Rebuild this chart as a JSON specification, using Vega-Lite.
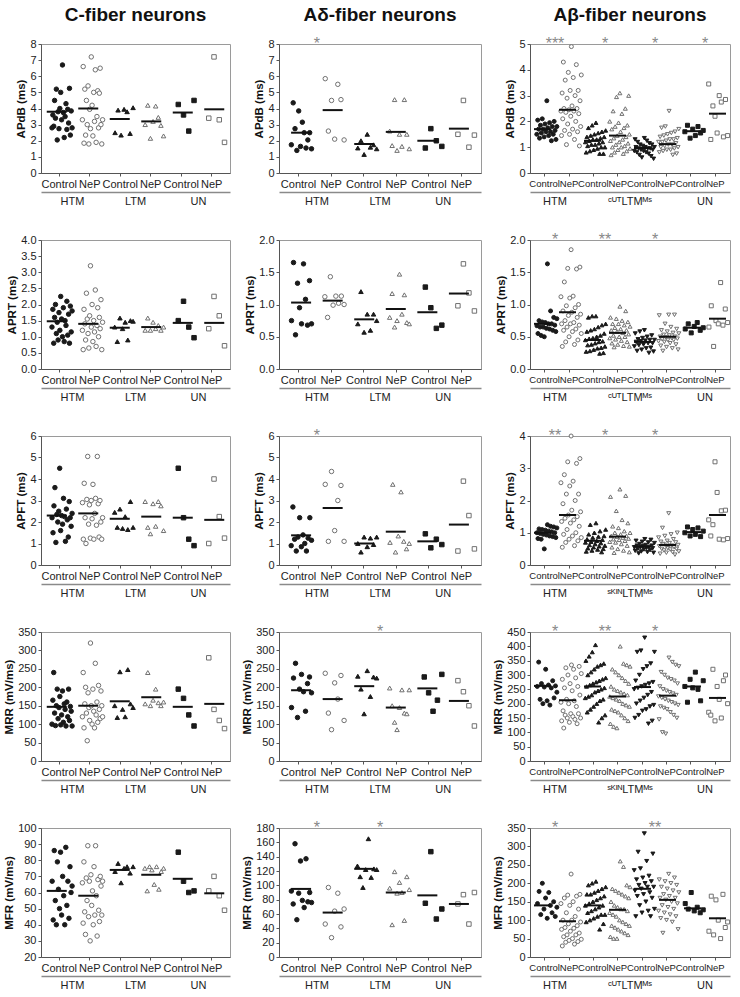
{
"$schema":"https://vega.github.io/schema/vega-lite/v6.json",
"padding":{"left":3,"top":5,"right":5,"bottom":5},
"bounds":"flush",
"columns":3,
"spacing":{"row":67,"column":49},
"resolve":{"scale":{"xOffset":"independent"}},
"config":{
 "font":"Liberation Sans",
 "view":{"stroke":"#9a9a9a","strokeWidth":1},
 "axis":{"labelFont":"Liberation Sans","labelFontSize":11,"labelColor":"#222","titleFont":"Liberation Sans","titleFontSize":11.5,"titleFontWeight":"bold","titleColor":"#111","domainColor":"#555","tickColor":"#555","tickSize":3,"labelPadding":2,"titlePadding":3,"grid":false},
 "axisX":{"labelAngle":0,"labelOverlap":false},
 "scale":{"bandPaddingInner":0,"bandPaddingOuter":0},
 "title":{"font":"Liberation Sans","fontSize":19,"fontWeight":"bold","color":"#111","offset":11},
 "tick":{"thickness":2,"color":"#111","opacity":1},
 "text":{"font":"Liberation Sans"}
},
"datasets":{
"pts":[
{"p":"C1","k":"HC","v":2.8},{"p":"C1","k":"HC","v":3.6},{"p":"C1","k":"HC","v":2.9},{"p":"C1","k":"HC","v":4.5},{"p":"C1","k":"HC","v":3.4},{"p":"C1","k":"HC","v":5.2},{"p":"C1","k":"HC","v":2.05},{"p":"C1","k":"HC","v":3.8},{"p":"C1","k":"HC","v":2.75},{"p":"C1","k":"HC","v":4.0},{"p":"C1","k":"HC","v":5.0},{"p":"C1","k":"HC","v":3.3},{"p":"C1","k":"HC","v":6.7},{"p":"C1","k":"HC","v":3.75},{"p":"C1","k":"HC","v":2.2},{"p":"C1","k":"HC","v":3.5},{"p":"C1","k":"HC","v":4.3},{"p":"C1","k":"HC","v":2.7},{"p":"C1","k":"HC","v":3.95},{"p":"C1","k":"HC","v":3.1},{"p":"C1","k":"HC","v":5.25},{"p":"C1","k":"HC","v":2.35},{"p":"C1","k":"HC","v":3.85},{"p":"C1","k":"HC","v":2.8},
{"p":"C1","k":"HN","v":3.3},{"p":"C1","k":"HN","v":6.6},{"p":"C1","k":"HN","v":1.85},{"p":"C1","k":"HN","v":5.2},{"p":"C1","k":"HN","v":2.35},{"p":"C1","k":"HN","v":4.5},{"p":"C1","k":"HN","v":3.0},{"p":"C1","k":"HN","v":5.4},{"p":"C1","k":"HN","v":1.8},{"p":"C1","k":"HN","v":3.95},{"p":"C1","k":"HN","v":2.75},{"p":"C1","k":"HN","v":7.2},{"p":"C1","k":"HN","v":4.2},{"p":"C1","k":"HN","v":2.3},{"p":"C1","k":"HN","v":5.0},{"p":"C1","k":"HN","v":3.2},{"p":"C1","k":"HN","v":6.4},{"p":"C1","k":"HN","v":1.9},{"p":"C1","k":"HN","v":3.5},{"p":"C1","k":"HN","v":5.1},{"p":"C1","k":"HN","v":2.8},{"p":"C1","k":"HN","v":4.95},{"p":"C1","k":"HN","v":6.5},{"p":"C1","k":"HN","v":3.0},{"p":"C1","k":"HN","v":1.8},{"p":"C1","k":"HN","v":3.3},
{"p":"C1","k":"LC","v":2.5},{"p":"C1","k":"LC","v":3.9},{"p":"C1","k":"LC","v":2.35},{"p":"C1","k":"LC","v":3.95},{"p":"C1","k":"LC","v":3.8},{"p":"C1","k":"LC","v":2.45},{"p":"C1","k":"LC","v":4.05},
{"p":"C1","k":"LN","v":3.0},{"p":"C1","k":"LN","v":4.2},{"p":"C1","k":"LN","v":2.15},{"p":"C1","k":"LN","v":3.2},{"p":"C1","k":"LN","v":4.15},{"p":"C1","k":"LN","v":3.45},{"p":"C1","k":"LN","v":2.95},{"p":"C1","k":"LN","v":2.3},
{"p":"C1","k":"UC","v":4.25},{"p":"C1","k":"UC","v":3.6},{"p":"C1","k":"UC","v":2.6},{"p":"C1","k":"UC","v":4.5},
{"p":"C1","k":"UN","v":3.4},{"p":"C1","k":"UN","v":7.2},{"p":"C1","k":"UN","v":3.3},{"p":"C1","k":"UN","v":1.9},
{"p":"C2","k":"HC","v":1.3},{"p":"C2","k":"HC","v":1.85},{"p":"C2","k":"HC","v":0.8},{"p":"C2","k":"HC","v":1.6},{"p":"C2","k":"HC","v":2.0},{"p":"C2","k":"HC","v":1.1},{"p":"C2","k":"HC","v":1.45},{"p":"C2","k":"HC","v":0.9},{"p":"C2","k":"HC","v":1.75},{"p":"C2","k":"HC","v":1.2},{"p":"C2","k":"HC","v":2.25},{"p":"C2","k":"HC","v":1.55},{"p":"C2","k":"HC","v":1.0},{"p":"C2","k":"HC","v":1.9},{"p":"C2","k":"HC","v":0.85},{"p":"C2","k":"HC","v":1.5},{"p":"C2","k":"HC","v":1.35},{"p":"C2","k":"HC","v":2.1},{"p":"C2","k":"HC","v":1.05},{"p":"C2","k":"HC","v":1.7},{"p":"C2","k":"HC","v":0.8},{"p":"C2","k":"HC","v":1.95},{"p":"C2","k":"HC","v":1.15},{"p":"C2","k":"HC","v":1.8},
{"p":"C2","k":"HN","v":1.2},{"p":"C2","k":"HN","v":0.6},{"p":"C2","k":"HN","v":1.85},{"p":"C2","k":"HN","v":1.4},{"p":"C2","k":"HN","v":0.9},{"p":"C2","k":"HN","v":2.35},{"p":"C2","k":"HN","v":1.55},{"p":"C2","k":"HN","v":1.1},{"p":"C2","k":"HN","v":0.65},{"p":"C2","k":"HN","v":1.65},{"p":"C2","k":"HN","v":3.2},{"p":"C2","k":"HN","v":1.3},{"p":"C2","k":"HN","v":2.0},{"p":"C2","k":"HN","v":0.85},{"p":"C2","k":"HN","v":1.5},{"p":"C2","k":"HN","v":1.15},{"p":"C2","k":"HN","v":2.45},{"p":"C2","k":"HN","v":0.7},{"p":"C2","k":"HN","v":1.35},{"p":"C2","k":"HN","v":1.9},{"p":"C2","k":"HN","v":1.0},{"p":"C2","k":"HN","v":1.6},{"p":"C2","k":"HN","v":1.25},{"p":"C2","k":"HN","v":2.15},{"p":"C2","k":"HN","v":0.6},{"p":"C2","k":"HN","v":1.45},
{"p":"C2","k":"LC","v":1.3},{"p":"C2","k":"LC","v":0.85},{"p":"C2","k":"LC","v":1.58},{"p":"C2","k":"LC","v":1.25},{"p":"C2","k":"LC","v":1.45},{"p":"C2","k":"LC","v":0.9},{"p":"C2","k":"LC","v":1.5},{"p":"C2","k":"LC","v":1.48},
{"p":"C2","k":"LN","v":1.2},{"p":"C2","k":"LN","v":1.58},{"p":"C2","k":"LN","v":1.2},{"p":"C2","k":"LN","v":1.45},{"p":"C2","k":"LN","v":1.25},{"p":"C2","k":"LN","v":1.35},{"p":"C2","k":"LN","v":1.2},{"p":"C2","k":"LN","v":1.3},
{"p":"C2","k":"UC","v":1.5},{"p":"C2","k":"UC","v":2.1},{"p":"C2","k":"UC","v":1.3},{"p":"C2","k":"UC","v":0.97},
{"p":"C2","k":"UN","v":1.25},{"p":"C2","k":"UN","v":2.25},{"p":"C2","k":"UN","v":1.65},{"p":"C2","k":"UN","v":0.72},
{"p":"C3","k":"HC","v":2.2},{"p":"C3","k":"HC","v":1.5},{"p":"C3","k":"HC","v":2.75},{"p":"C3","k":"HC","v":3.6},{"p":"C3","k":"HC","v":1.05},{"p":"C3","k":"HC","v":2.35},{"p":"C3","k":"HC","v":2.0},{"p":"C3","k":"HC","v":2.5},{"p":"C3","k":"HC","v":4.5},{"p":"C3","k":"HC","v":1.6},{"p":"C3","k":"HC","v":2.3},{"p":"C3","k":"HC","v":1.9},{"p":"C3","k":"HC","v":3.1},{"p":"C3","k":"HC","v":2.25},{"p":"C3","k":"HC","v":1.1},{"p":"C3","k":"HC","v":2.6},{"p":"C3","k":"HC","v":2.1},{"p":"C3","k":"HC","v":1.3},{"p":"C3","k":"HC","v":2.95},{"p":"C3","k":"HC","v":2.2},{"p":"C3","k":"HC","v":1.8},{"p":"C3","k":"HC","v":2.4},
{"p":"C3","k":"HN","v":2.9},{"p":"C3","k":"HN","v":1.2},{"p":"C3","k":"HN","v":3.8},{"p":"C3","k":"HN","v":2.2},{"p":"C3","k":"HN","v":1.0},{"p":"C3","k":"HN","v":3.05},{"p":"C3","k":"HN","v":5.05},{"p":"C3","k":"HN","v":1.9},{"p":"C3","k":"HN","v":2.8},{"p":"C3","k":"HN","v":1.25},{"p":"C3","k":"HN","v":3.0},{"p":"C3","k":"HN","v":2.15},{"p":"C3","k":"HN","v":3.75},{"p":"C3","k":"HN","v":1.2},{"p":"C3","k":"HN","v":2.4},{"p":"C3","k":"HN","v":3.1},{"p":"C3","k":"HN","v":1.85},{"p":"C3","k":"HN","v":5.05},{"p":"C3","k":"HN","v":2.85},{"p":"C3","k":"HN","v":1.3},{"p":"C3","k":"HN","v":3.0},{"p":"C3","k":"HN","v":2.0},{"p":"C3","k":"HN","v":1.2},{"p":"C3","k":"HN","v":2.2},
{"p":"C3","k":"LC","v":2.45},{"p":"C3","k":"LC","v":1.75},{"p":"C3","k":"LC","v":2.6},{"p":"C3","k":"LC","v":1.7},{"p":"C3","k":"LC","v":2.25},{"p":"C3","k":"LC","v":1.65},{"p":"C3","k":"LC","v":2.95},{"p":"C3","k":"LC","v":1.75},
{"p":"C3","k":"LN","v":2.95},{"p":"C3","k":"LN","v":1.75},{"p":"C3","k":"LN","v":1.45},{"p":"C3","k":"LN","v":2.85},{"p":"C3","k":"LN","v":1.8},{"p":"C3","k":"LN","v":2.95},{"p":"C3","k":"LN","v":2.75},{"p":"C3","k":"LN","v":1.6},
{"p":"C3","k":"UC","v":4.5},{"p":"C3","k":"UC","v":2.2},{"p":"C3","k":"UC","v":1.2},{"p":"C3","k":"UC","v":0.9},
{"p":"C3","k":"UN","v":1.0},{"p":"C3","k":"UN","v":4.0},{"p":"C3","k":"UN","v":2.25},{"p":"C3","k":"UN","v":1.25},
{"p":"C4","k":"HC","v":100},{"p":"C4","k":"HC","v":165},{"p":"C4","k":"HC","v":240},{"p":"C4","k":"HC","v":130},{"p":"C4","k":"HC","v":96},{"p":"C4","k":"HC","v":150},{"p":"C4","k":"HC","v":195},{"p":"C4","k":"HC","v":115},{"p":"C4","k":"HC","v":145},{"p":"C4","k":"HC","v":175},{"p":"C4","k":"HC","v":98},{"p":"C4","k":"HC","v":125},{"p":"C4","k":"HC","v":190},{"p":"C4","k":"HC","v":105},{"p":"C4","k":"HC","v":155},{"p":"C4","k":"HC","v":140},{"p":"C4","k":"HC","v":95},{"p":"C4","k":"HC","v":160},{"p":"C4","k":"HC","v":120},{"p":"C4","k":"HC","v":195},{"p":"C4","k":"HC","v":110},{"p":"C4","k":"HC","v":148},{"p":"C4","k":"HC","v":135},{"p":"C4","k":"HC","v":95},
{"p":"C4","k":"HN","v":120},{"p":"C4","k":"HN","v":240},{"p":"C4","k":"HN","v":90},{"p":"C4","k":"HN","v":155},{"p":"C4","k":"HN","v":200},{"p":"C4","k":"HN","v":130},{"p":"C4","k":"HN","v":55},{"p":"C4","k":"HN","v":185},{"p":"C4","k":"HN","v":145},{"p":"C4","k":"HN","v":110},{"p":"C4","k":"HN","v":320},{"p":"C4","k":"HN","v":150},{"p":"C4","k":"HN","v":100},{"p":"C4","k":"HN","v":195},{"p":"C4","k":"HN","v":135},{"p":"C4","k":"HN","v":90},{"p":"C4","k":"HN","v":265},{"p":"C4","k":"HN","v":125},{"p":"C4","k":"HN","v":160},{"p":"C4","k":"HN","v":105},{"p":"C4","k":"HN","v":205},{"p":"C4","k":"HN","v":140},{"p":"C4","k":"HN","v":115},{"p":"C4","k":"HN","v":190},{"p":"C4","k":"HN","v":150},{"p":"C4","k":"HN","v":120},
{"p":"C4","k":"LC","v":150},{"p":"C4","k":"LC","v":118},{"p":"C4","k":"LC","v":242},{"p":"C4","k":"LC","v":140},{"p":"C4","k":"LC","v":120},{"p":"C4","k":"LC","v":248},{"p":"C4","k":"LC","v":155},{"p":"C4","k":"LC","v":145},
{"p":"C4","k":"LN","v":155},{"p":"C4","k":"LN","v":240},{"p":"C4","k":"LN","v":150},{"p":"C4","k":"LN","v":165},{"p":"C4","k":"LN","v":195},{"p":"C4","k":"LN","v":158},{"p":"C4","k":"LN","v":150},{"p":"C4","k":"LN","v":160},
{"p":"C4","k":"UC","v":195},{"p":"C4","k":"UC","v":170},{"p":"C4","k":"UC","v":125},{"p":"C4","k":"UC","v":95},
{"p":"C4","k":"UN","v":280},{"p":"C4","k":"UN","v":140},{"p":"C4","k":"UN","v":110},{"p":"C4","k":"UN","v":88},
{"p":"C5","k":"HC","v":67},{"p":"C5","k":"HC","v":43},{"p":"C5","k":"HC","v":86},{"p":"C5","k":"HC","v":55},{"p":"C5","k":"HC","v":40},{"p":"C5","k":"HC","v":79},{"p":"C5","k":"HC","v":62},{"p":"C5","k":"HC","v":50},{"p":"C5","k":"HC","v":85},{"p":"C5","k":"HC","v":46},{"p":"C5","k":"HC","v":70},{"p":"C5","k":"HC","v":58},{"p":"C5","k":"HC","v":40},{"p":"C5","k":"HC","v":88},{"p":"C5","k":"HC","v":52},{"p":"C5","k":"HC","v":67},{"p":"C5","k":"HC","v":44},{"p":"C5","k":"HC","v":76},{"p":"C5","k":"HC","v":60},{"p":"C5","k":"HC","v":64},
{"p":"C5","k":"HN","v":66},{"p":"C5","k":"HN","v":41},{"p":"C5","k":"HN","v":79},{"p":"C5","k":"HN","v":48},{"p":"C5","k":"HN","v":34},{"p":"C5","k":"HN","v":69},{"p":"C5","k":"HN","v":55},{"p":"C5","k":"HN","v":89},{"p":"C5","k":"HN","v":45},{"p":"C5","k":"HN","v":67},{"p":"C5","k":"HN","v":30},{"p":"C5","k":"HN","v":71},{"p":"C5","k":"HN","v":52},{"p":"C5","k":"HN","v":61},{"p":"C5","k":"HN","v":40},{"p":"C5","k":"HN","v":76},{"p":"C5","k":"HN","v":46},{"p":"C5","k":"HN","v":89},{"p":"C5","k":"HN","v":58},{"p":"C5","k":"HN","v":33},{"p":"C5","k":"HN","v":68},{"p":"C5","k":"HN","v":49},{"p":"C5","k":"HN","v":42},{"p":"C5","k":"HN","v":70},{"p":"C5","k":"HN","v":64},{"p":"C5","k":"HN","v":46},{"p":"C5","k":"HN","v":67},
{"p":"C5","k":"LC","v":73},{"p":"C5","k":"LC","v":78},{"p":"C5","k":"LC","v":66},{"p":"C5","k":"LC","v":75},{"p":"C5","k":"LC","v":76},{"p":"C5","k":"LC","v":72},{"p":"C5","k":"LC","v":76},
{"p":"C5","k":"LN","v":75},{"p":"C5","k":"LN","v":61},{"p":"C5","k":"LN","v":76},{"p":"C5","k":"LN","v":74},{"p":"C5","k":"LN","v":65},{"p":"C5","k":"LN","v":76},{"p":"C5","k":"LN","v":62},{"p":"C5","k":"LN","v":73},{"p":"C5","k":"LN","v":75},
{"p":"C5","k":"UC","v":85},{"p":"C5","k":"UC","v":67},{"p":"C5","k":"UC","v":60},{"p":"C5","k":"UC","v":61},
{"p":"C5","k":"UN","v":61},{"p":"C5","k":"UN","v":70},{"p":"C5","k":"UN","v":58},{"p":"C5","k":"UN","v":49},
{"p":"D1","k":"HC","v":1.75},{"p":"D1","k":"HC","v":4.35},{"p":"D1","k":"HC","v":2.75},{"p":"D1","k":"HC","v":1.4},{"p":"D1","k":"HC","v":3.85},{"p":"D1","k":"HC","v":1.65},{"p":"D1","k":"HC","v":3.15},{"p":"D1","k":"HC","v":2.5},{"p":"D1","k":"HC","v":1.55},{"p":"D1","k":"HC","v":2.05},{"p":"D1","k":"HC","v":2.5},{"p":"D1","k":"HC","v":1.5},
{"p":"D1","k":"HN","v":5.85},{"p":"D1","k":"HN","v":2.6},{"p":"D1","k":"HN","v":4.5},{"p":"D1","k":"HN","v":2.1},{"p":"D1","k":"HN","v":5.5},{"p":"D1","k":"HN","v":4.55},{"p":"D1","k":"HN","v":2.05},
{"p":"D1","k":"LC","v":1.55},{"p":"D1","k":"LC","v":2.0},{"p":"D1","k":"LC","v":1.15},{"p":"D1","k":"LC","v":2.4},{"p":"D1","k":"LC","v":1.6},{"p":"D1","k":"LC","v":1.75},{"p":"D1","k":"LC","v":1.5},
{"p":"D1","k":"LN","v":2.6},{"p":"D1","k":"LN","v":1.7},{"p":"D1","k":"LN","v":4.55},{"p":"D1","k":"LN","v":1.4},{"p":"D1","k":"LN","v":2.4},{"p":"D1","k":"LN","v":1.65},{"p":"D1","k":"LN","v":4.55},{"p":"D1","k":"LN","v":2.4},{"p":"D1","k":"LN","v":1.5},
{"p":"D1","k":"UC","v":1.55},{"p":"D1","k":"UC","v":2.75},{"p":"D1","k":"UC","v":2.0},{"p":"D1","k":"UC","v":1.65},
{"p":"D1","k":"UN","v":2.4},{"p":"D1","k":"UN","v":4.5},{"p":"D1","k":"UN","v":1.6},{"p":"D1","k":"UN","v":2.35},
{"p":"D2","k":"HC","v":0.75},{"p":"D2","k":"HC","v":1.65},{"p":"D2","k":"HC","v":0.53},{"p":"D2","k":"HC","v":1.33},{"p":"D2","k":"HC","v":0.95},{"p":"D2","k":"HC","v":0.7},{"p":"D2","k":"HC","v":1.63},{"p":"D2","k":"HC","v":1.08},{"p":"D2","k":"HC","v":0.68},{"p":"D2","k":"HC","v":1.37},{"p":"D2","k":"HC","v":0.7},
{"p":"D2","k":"HN","v":1.12},{"p":"D2","k":"HN","v":0.8},{"p":"D2","k":"HN","v":1.43},{"p":"D2","k":"HN","v":0.99},{"p":"D2","k":"HN","v":1.13},{"p":"D2","k":"HN","v":1.02},{"p":"D2","k":"HN","v":1.13},{"p":"D2","k":"HN","v":1.0},
{"p":"D2","k":"LC","v":0.7},{"p":"D2","k":"LC","v":1.2},{"p":"D2","k":"LC","v":0.57},{"p":"D2","k":"LC","v":0.85},{"p":"D2","k":"LC","v":0.6},{"p":"D2","k":"LC","v":0.85},{"p":"D2","k":"LC","v":0.75},
{"p":"D2","k":"LN","v":0.8},{"p":"D2","k":"LN","v":1.17},{"p":"D2","k":"LN","v":0.65},{"p":"D2","k":"LN","v":0.75},{"p":"D2","k":"LN","v":1.47},{"p":"D2","k":"LN","v":0.85},{"p":"D2","k":"LN","v":1.15},{"p":"D2","k":"LN","v":0.72},{"p":"D2","k":"LN","v":0.7},
{"p":"D2","k":"UC","v":1.27},{"p":"D2","k":"UC","v":0.95},{"p":"D2","k":"UC","v":0.63},{"p":"D2","k":"UC","v":0.68},
{"p":"D2","k":"UN","v":0.98},{"p":"D2","k":"UN","v":1.63},{"p":"D2","k":"UN","v":1.18},{"p":"D2","k":"UN","v":0.9},
{"p":"D3","k":"HC","v":0.9},{"p":"D3","k":"HC","v":2.7},{"p":"D3","k":"HC","v":1.2},{"p":"D3","k":"HC","v":0.65},{"p":"D3","k":"HC","v":1.3},{"p":"D3","k":"HC","v":2.2},{"p":"D3","k":"HC","v":0.85},{"p":"D3","k":"HC","v":1.4},{"p":"D3","k":"HC","v":1.0},{"p":"D3","k":"HC","v":0.65},{"p":"D3","k":"HC","v":1.25},{"p":"D3","k":"HC","v":2.2},{"p":"D3","k":"HC","v":1.15},
{"p":"D3","k":"HN","v":3.75},{"p":"D3","k":"HN","v":1.1},{"p":"D3","k":"HN","v":4.35},{"p":"D3","k":"HN","v":1.6},{"p":"D3","k":"HN","v":3.0},{"p":"D3","k":"HN","v":3.7},{"p":"D3","k":"HN","v":1.1},
{"p":"D3","k":"LC","v":1.0},{"p":"D3","k":"LC","v":0.6},{"p":"D3","k":"LC","v":1.3},{"p":"D3","k":"LC","v":0.85},{"p":"D3","k":"LC","v":1.25},{"p":"D3","k":"LC","v":0.95},{"p":"D3","k":"LC","v":1.3},
{"p":"D3","k":"LN","v":1.05},{"p":"D3","k":"LN","v":3.75},{"p":"D3","k":"LN","v":0.6},{"p":"D3","k":"LN","v":1.35},{"p":"D3","k":"LN","v":3.4},{"p":"D3","k":"LN","v":1.1},{"p":"D3","k":"LN","v":0.75},{"p":"D3","k":"LN","v":1.0},
{"p":"D3","k":"UC","v":1.45},{"p":"D3","k":"UC","v":0.8},{"p":"D3","k":"UC","v":1.2},{"p":"D3","k":"UC","v":0.95},
{"p":"D3","k":"UN","v":0.65},{"p":"D3","k":"UN","v":3.9},{"p":"D3","k":"UN","v":2.3},{"p":"D3","k":"UN","v":0.75},
{"p":"D4","k":"HC","v":145},{"p":"D4","k":"HC","v":225},{"p":"D4","k":"HC","v":265},{"p":"D4","k":"HC","v":118},{"p":"D4","k":"HC","v":195},{"p":"D4","k":"HC","v":235},{"p":"D4","k":"HC","v":188},{"p":"D4","k":"HC","v":135},{"p":"D4","k":"HC","v":210},{"p":"D4","k":"HC","v":228},{"p":"D4","k":"HC","v":185},
{"p":"D4","k":"HN","v":238},{"p":"D4","k":"HN","v":130},{"p":"D4","k":"HN","v":85},{"p":"D4","k":"HN","v":212},{"p":"D4","k":"HN","v":168},{"p":"D4","k":"HN","v":232},{"p":"D4","k":"HN","v":110},
{"p":"D4","k":"LC","v":230},{"p":"D4","k":"LC","v":195},{"p":"D4","k":"LC","v":128},{"p":"D4","k":"LC","v":245},{"p":"D4","k":"LC","v":175},{"p":"D4","k":"LC","v":228},{"p":"D4","k":"LC","v":225},
{"p":"D4","k":"LN","v":198},{"p":"D4","k":"LN","v":150},{"p":"D4","k":"LN","v":105},{"p":"D4","k":"LN","v":85},{"p":"D4","k":"LN","v":145},{"p":"D4","k":"LN","v":193},{"p":"D4","k":"LN","v":130},{"p":"D4","k":"LN","v":128},{"p":"D4","k":"LN","v":193},
{"p":"D4","k":"UC","v":228},{"p":"D4","k":"UC","v":185},{"p":"D4","k":"UC","v":135},{"p":"D4","k":"UC","v":165},{"p":"D4","k":"UC","v":235},
{"p":"D4","k":"UN","v":218},{"p":"D4","k":"UN","v":188},{"p":"D4","k":"UN","v":150},{"p":"D4","k":"UN","v":95},
{"p":"D5","k":"HC","v":92},{"p":"D5","k":"HC","v":74},{"p":"D5","k":"HC","v":158},{"p":"D5","k":"HC","v":52},{"p":"D5","k":"HC","v":89},{"p":"D5","k":"HC","v":134},{"p":"D5","k":"HC","v":79},{"p":"D5","k":"HC","v":69},{"p":"D5","k":"HC","v":137},{"p":"D5","k":"HC","v":77},{"p":"D5","k":"HC","v":90},{"p":"D5","k":"HC","v":76},
{"p":"D5","k":"HN","v":46},{"p":"D5","k":"HN","v":97},{"p":"D5","k":"HN","v":27},{"p":"D5","k":"HN","v":64},{"p":"D5","k":"HN","v":89},{"p":"D5","k":"HN","v":42},{"p":"D5","k":"HN","v":67},
{"p":"D5","k":"LC","v":127},{"p":"D5","k":"LC","v":112},{"p":"D5","k":"LC","v":97},{"p":"D5","k":"LC","v":122},{"p":"D5","k":"LC","v":165},{"p":"D5","k":"LC","v":111},{"p":"D5","k":"LC","v":123},{"p":"D5","k":"LC","v":122},
{"p":"D5","k":"LN","v":96},{"p":"D5","k":"LN","v":45},{"p":"D5","k":"LN","v":119},{"p":"D5","k":"LN","v":89},{"p":"D5","k":"LN","v":104},{"p":"D5","k":"LN","v":90},{"p":"D5","k":"LN","v":51},{"p":"D5","k":"LN","v":112},{"p":"D5","k":"LN","v":94},
{"p":"D5","k":"UC","v":75},{"p":"D5","k":"UC","v":147},{"p":"D5","k":"UC","v":53},{"p":"D5","k":"UC","v":67},
{"p":"D5","k":"UN","v":74},{"p":"D5","k":"UN","v":87},{"p":"D5","k":"UN","v":46},{"p":"D5","k":"UN","v":90},
{"p":"B1","k":"HC","v":1.5},{"p":"B1","k":"HC","v":2.05},{"p":"B1","k":"HC","v":1.7},{"p":"B1","k":"HC","v":1.35},{"p":"B1","k":"HC","v":1.85},{"p":"B1","k":"HC","v":1.55},{"p":"B1","k":"HC","v":2.1},{"p":"B1","k":"HC","v":1.7},{"p":"B1","k":"HC","v":1.4},{"p":"B1","k":"HC","v":1.9},{"p":"B1","k":"HC","v":1.6},{"p":"B1","k":"HC","v":2.8},{"p":"B1","k":"HC","v":1.75},{"p":"B1","k":"HC","v":1.45},{"p":"B1","k":"HC","v":1.95},{"p":"B1","k":"HC","v":1.6},{"p":"B1","k":"HC","v":1.25},{"p":"B1","k":"HC","v":1.8},{"p":"B1","k":"HC","v":1.5},{"p":"B1","k":"HC","v":2.0},{"p":"B1","k":"HC","v":1.65},{"p":"B1","k":"HC","v":1.3},{"p":"B1","k":"HC","v":1.8},
{"p":"B1","k":"HN","v":2.4},{"p":"B1","k":"HN","v":1.45},{"p":"B1","k":"HN","v":3.1},{"p":"B1","k":"HN","v":2.1},{"p":"B1","k":"HN","v":4.3},{"p":"B1","k":"HN","v":2.5},{"p":"B1","k":"HN","v":1.65},{"p":"B1","k":"HN","v":3.6},{"p":"B1","k":"HN","v":2.35},{"p":"B1","k":"HN","v":1.1},{"p":"B1","k":"HN","v":2.9},{"p":"B1","k":"HN","v":1.9},{"p":"B1","k":"HN","v":3.9},{"p":"B1","k":"HN","v":2.45},{"p":"B1","k":"HN","v":1.5},{"p":"B1","k":"HN","v":3.2},{"p":"B1","k":"HN","v":2.2},{"p":"B1","k":"HN","v":4.9},{"p":"B1","k":"HN","v":2.6},{"p":"B1","k":"HN","v":1.7},{"p":"B1","k":"HN","v":3.7},{"p":"B1","k":"HN","v":2.4},{"p":"B1","k":"HN","v":1.3},{"p":"B1","k":"HN","v":3.0},{"p":"B1","k":"HN","v":2.0},{"p":"B1","k":"HN","v":4.2},{"p":"B1","k":"HN","v":2.5},{"p":"B1","k":"HN","v":1.6},{"p":"B1","k":"HN","v":3.2},{"p":"B1","k":"HN","v":2.3},{"p":"B1","k":"HN","v":1.05},{"p":"B1","k":"HN","v":2.8},{"p":"B1","k":"HN","v":1.8},{"p":"B1","k":"HN","v":3.8},
{"p":"B1","k":"LC","v":1.2},{"p":"B1","k":"LC","v":0.8},{"p":"B1","k":"LC","v":1.4},{"p":"B1","k":"LC","v":1.05},{"p":"B1","k":"LC","v":1.75},{"p":"B1","k":"LC","v":1.25},{"p":"B1","k":"LC","v":0.85},{"p":"B1","k":"LC","v":1.45},{"p":"B1","k":"LC","v":1.1},{"p":"B1","k":"LC","v":1.85},{"p":"B1","k":"LC","v":1.3},{"p":"B1","k":"LC","v":0.9},{"p":"B1","k":"LC","v":1.5},{"p":"B1","k":"LC","v":1.1},{"p":"B1","k":"LC","v":1.95},{"p":"B1","k":"LC","v":1.3},{"p":"B1","k":"LC","v":0.95},{"p":"B1","k":"LC","v":1.55},{"p":"B1","k":"LC","v":1.15},{"p":"B1","k":"LC","v":0.75},{"p":"B1","k":"LC","v":1.35},{"p":"B1","k":"LC","v":1.0},{"p":"B1","k":"LC","v":1.6},{"p":"B1","k":"LC","v":1.2},{"p":"B1","k":"LC","v":0.75},{"p":"B1","k":"LC","v":1.4},{"p":"B1","k":"LC","v":1.0},{"p":"B1","k":"LC","v":1.65},
{"p":"B1","k":"LN","v":2.0},{"p":"B1","k":"LN","v":1.25},{"p":"B1","k":"LN","v":0.7},{"p":"B1","k":"LN","v":1.7},{"p":"B1","k":"LN","v":1.0},{"p":"B1","k":"LN","v":2.4},{"p":"B1","k":"LN","v":1.35},{"p":"B1","k":"LN","v":0.8},{"p":"B1","k":"LN","v":1.8},{"p":"B1","k":"LN","v":1.1},{"p":"B1","k":"LN","v":2.95},{"p":"B1","k":"LN","v":1.45},{"p":"B1","k":"LN","v":0.9},{"p":"B1","k":"LN","v":1.95},{"p":"B1","k":"LN","v":1.2},{"p":"B1","k":"LN","v":3.1},{"p":"B1","k":"LN","v":1.6},{"p":"B1","k":"LN","v":1.0},{"p":"B1","k":"LN","v":2.3},{"p":"B1","k":"LN","v":1.3},{"p":"B1","k":"LN","v":0.75},{"p":"B1","k":"LN","v":1.75},{"p":"B1","k":"LN","v":1.05},{"p":"B1","k":"LN","v":2.5},{"p":"B1","k":"LN","v":1.4},{"p":"B1","k":"LN","v":0.85},{"p":"B1","k":"LN","v":1.85},{"p":"B1","k":"LN","v":1.15},{"p":"B1","k":"LN","v":3.0},{"p":"B1","k":"LN","v":1.5},{"p":"B1","k":"LN","v":0.95},
{"p":"B1","k":"MC","v":0.85},{"p":"B1","k":"MC","v":1.3},{"p":"B1","k":"MC","v":1.0},{"p":"B1","k":"MC","v":0.8},{"p":"B1","k":"MC","v":1.2},{"p":"B1","k":"MC","v":0.95},{"p":"B1","k":"MC","v":0.7},{"p":"B1","k":"MC","v":1.1},{"p":"B1","k":"MC","v":0.9},{"p":"B1","k":"MC","v":0.6},{"p":"B1","k":"MC","v":1.05},{"p":"B1","k":"MC","v":0.85},{"p":"B1","k":"MC","v":1.35},{"p":"B1","k":"MC","v":1.0},{"p":"B1","k":"MC","v":0.8},{"p":"B1","k":"MC","v":1.25},{"p":"B1","k":"MC","v":0.95},{"p":"B1","k":"MC","v":0.75},{"p":"B1","k":"MC","v":1.15},{"p":"B1","k":"MC","v":0.95},{"p":"B1","k":"MC","v":0.65},{"p":"B1","k":"MC","v":1.1},{"p":"B1","k":"MC","v":0.9},{"p":"B1","k":"MC","v":0.55},{"p":"B1","k":"MC","v":1.0},
{"p":"B1","k":"MN","v":1.2},{"p":"B1","k":"MN","v":0.8},{"p":"B1","k":"MN","v":1.4},{"p":"B1","k":"MN","v":1.0},{"p":"B1","k":"MN","v":1.75},{"p":"B1","k":"MN","v":1.2},{"p":"B1","k":"MN","v":0.85},{"p":"B1","k":"MN","v":1.45},{"p":"B1","k":"MN","v":1.05},{"p":"B1","k":"MN","v":1.8},{"p":"B1","k":"MN","v":1.25},{"p":"B1","k":"MN","v":0.9},{"p":"B1","k":"MN","v":1.5},{"p":"B1","k":"MN","v":1.1},{"p":"B1","k":"MN","v":2.4},{"p":"B1","k":"MN","v":1.3},{"p":"B1","k":"MN","v":0.9},{"p":"B1","k":"MN","v":1.55},{"p":"B1","k":"MN","v":1.1},{"p":"B1","k":"MN","v":0.7},{"p":"B1","k":"MN","v":1.3},{"p":"B1","k":"MN","v":0.95},{"p":"B1","k":"MN","v":1.6},{"p":"B1","k":"MN","v":1.15},{"p":"B1","k":"MN","v":0.75},{"p":"B1","k":"MN","v":1.35},{"p":"B1","k":"MN","v":1.0},{"p":"B1","k":"MN","v":1.7},
{"p":"B1","k":"UC","v":1.6},{"p":"B1","k":"UC","v":1.85},{"p":"B1","k":"UC","v":1.35},{"p":"B1","k":"UC","v":1.7},{"p":"B1","k":"UC","v":1.45},{"p":"B1","k":"UC","v":1.8},{"p":"B1","k":"UC","v":1.55},{"p":"B1","k":"UC","v":1.65},
{"p":"B1","k":"UN","v":3.45},{"p":"B1","k":"UN","v":1.3},{"p":"B1","k":"UN","v":2.6},{"p":"B1","k":"UN","v":2.2},{"p":"B1","k":"UN","v":1.55},{"p":"B1","k":"UN","v":3.0},{"p":"B1","k":"UN","v":2.75},{"p":"B1","k":"UN","v":1.4},{"p":"B1","k":"UN","v":2.85},{"p":"B1","k":"UN","v":1.45},
{"p":"B2","k":"HC","v":0.67},{"p":"B2","k":"HC","v":0.55},{"p":"B2","k":"HC","v":0.75},{"p":"B2","k":"HC","v":0.65},{"p":"B2","k":"HC","v":0.52},{"p":"B2","k":"HC","v":0.73},{"p":"B2","k":"HC","v":0.65},{"p":"B2","k":"HC","v":0.5},{"p":"B2","k":"HC","v":0.72},{"p":"B2","k":"HC","v":0.63},{"p":"B2","k":"HC","v":1.63},{"p":"B2","k":"HC","v":0.7},{"p":"B2","k":"HC","v":0.62},{"p":"B2","k":"HC","v":0.9},{"p":"B2","k":"HC","v":0.7},{"p":"B2","k":"HC","v":0.6},{"p":"B2","k":"HC","v":0.8},{"p":"B2","k":"HC","v":0.68},{"p":"B2","k":"HC","v":0.58},{"p":"B2","k":"HC","v":0.78},
{"p":"B2","k":"HN","v":1.12},{"p":"B2","k":"HN","v":0.7},{"p":"B2","k":"HN","v":0.35},{"p":"B2","k":"HN","v":0.9},{"p":"B2","k":"HN","v":0.6},{"p":"B2","k":"HN","v":1.35},{"p":"B2","k":"HN","v":0.75},{"p":"B2","k":"HN","v":0.42},{"p":"B2","k":"HN","v":0.98},{"p":"B2","k":"HN","v":0.65},{"p":"B2","k":"HN","v":1.56},{"p":"B2","k":"HN","v":0.83},{"p":"B2","k":"HN","v":0.5},{"p":"B2","k":"HN","v":1.1},{"p":"B2","k":"HN","v":0.7},{"p":"B2","k":"HN","v":1.85},{"p":"B2","k":"HN","v":0.88},{"p":"B2","k":"HN","v":0.58},{"p":"B2","k":"HN","v":1.13},{"p":"B2","k":"HN","v":0.72},{"p":"B2","k":"HN","v":0.38},{"p":"B2","k":"HN","v":0.95},{"p":"B2","k":"HN","v":0.62},{"p":"B2","k":"HN","v":1.55},{"p":"B2","k":"HN","v":0.8},{"p":"B2","k":"HN","v":0.45},{"p":"B2","k":"HN","v":1.0},{"p":"B2","k":"HN","v":0.68},{"p":"B2","k":"HN","v":1.58},{"p":"B2","k":"HN","v":0.85},{"p":"B2","k":"HN","v":0.55},
{"p":"B2","k":"LC","v":0.45},{"p":"B2","k":"LC","v":0.27},{"p":"B2","k":"LC","v":0.58},{"p":"B2","k":"LC","v":0.37},{"p":"B2","k":"LC","v":0.8},{"p":"B2","k":"LC","v":0.47},{"p":"B2","k":"LC","v":0.28},{"p":"B2","k":"LC","v":0.6},{"p":"B2","k":"LC","v":0.38},{"p":"B2","k":"LC","v":0.82},{"p":"B2","k":"LC","v":0.48},{"p":"B2","k":"LC","v":0.3},{"p":"B2","k":"LC","v":0.62},{"p":"B2","k":"LC","v":0.4},{"p":"B2","k":"LC","v":0.82},{"p":"B2","k":"LC","v":0.5},{"p":"B2","k":"LC","v":0.32},{"p":"B2","k":"LC","v":0.65},{"p":"B2","k":"LC","v":0.42},{"p":"B2","k":"LC","v":0.24},{"p":"B2","k":"LC","v":0.52},{"p":"B2","k":"LC","v":0.33},{"p":"B2","k":"LC","v":0.68},{"p":"B2","k":"LC","v":0.43},{"p":"B2","k":"LC","v":0.25},{"p":"B2","k":"LC","v":0.55},{"p":"B2","k":"LC","v":0.35},{"p":"B2","k":"LC","v":0.7},
{"p":"B2","k":"LN","v":0.48},{"p":"B2","k":"LN","v":0.8},{"p":"B2","k":"LN","v":0.6},{"p":"B2","k":"LN","v":0.4},{"p":"B2","k":"LN","v":0.7},{"p":"B2","k":"LN","v":0.52},{"p":"B2","k":"LN","v":0.34},{"p":"B2","k":"LN","v":0.64},{"p":"B2","k":"LN","v":0.46},{"p":"B2","k":"LN","v":0.78},{"p":"B2","k":"LN","v":0.58},{"p":"B2","k":"LN","v":0.38},{"p":"B2","k":"LN","v":0.7},{"p":"B2","k":"LN","v":0.5},{"p":"B2","k":"LN","v":0.97},{"p":"B2","k":"LN","v":0.62},{"p":"B2","k":"LN","v":0.44},{"p":"B2","k":"LN","v":0.75},{"p":"B2","k":"LN","v":0.56},{"p":"B2","k":"LN","v":0.36},{"p":"B2","k":"LN","v":0.68},{"p":"B2","k":"LN","v":0.5},{"p":"B2","k":"LN","v":0.9},{"p":"B2","k":"LN","v":0.6},{"p":"B2","k":"LN","v":0.42},{"p":"B2","k":"LN","v":0.73},{"p":"B2","k":"LN","v":0.54},{"p":"B2","k":"LN","v":0.35},{"p":"B2","k":"LN","v":0.66},
{"p":"B2","k":"MC","v":0.35},{"p":"B2","k":"MC","v":0.55},{"p":"B2","k":"MC","v":0.42},{"p":"B2","k":"MC","v":0.28},{"p":"B2","k":"MC","v":0.46},{"p":"B2","k":"MC","v":0.37},{"p":"B2","k":"MC","v":0.58},{"p":"B2","k":"MC","v":0.43},{"p":"B2","k":"MC","v":0.3},{"p":"B2","k":"MC","v":0.48},{"p":"B2","k":"MC","v":0.38},{"p":"B2","k":"MC","v":0.6},{"p":"B2","k":"MC","v":0.44},{"p":"B2","k":"MC","v":0.32},{"p":"B2","k":"MC","v":0.5},{"p":"B2","k":"MC","v":0.4},{"p":"B2","k":"MC","v":0.25},{"p":"B2","k":"MC","v":0.45},{"p":"B2","k":"MC","v":0.33},{"p":"B2","k":"MC","v":0.52},{"p":"B2","k":"MC","v":0.4},{"p":"B2","k":"MC","v":0.27},{"p":"B2","k":"MC","v":0.45},
{"p":"B2","k":"MN","v":0.43},{"p":"B2","k":"MN","v":0.83},{"p":"B2","k":"MN","v":0.5},{"p":"B2","k":"MN","v":0.36},{"p":"B2","k":"MN","v":0.6},{"p":"B2","k":"MN","v":0.46},{"p":"B2","k":"MN","v":0.28},{"p":"B2","k":"MN","v":0.53},{"p":"B2","k":"MN","v":0.42},{"p":"B2","k":"MN","v":0.7},{"p":"B2","k":"MN","v":0.49},{"p":"B2","k":"MN","v":0.34},{"p":"B2","k":"MN","v":0.58},{"p":"B2","k":"MN","v":0.45},{"p":"B2","k":"MN","v":0.84},{"p":"B2","k":"MN","v":0.52},{"p":"B2","k":"MN","v":0.4},{"p":"B2","k":"MN","v":0.65},{"p":"B2","k":"MN","v":0.48},{"p":"B2","k":"MN","v":0.32},{"p":"B2","k":"MN","v":0.56},{"p":"B2","k":"MN","v":0.45},{"p":"B2","k":"MN","v":0.84},{"p":"B2","k":"MN","v":0.5},{"p":"B2","k":"MN","v":0.38},{"p":"B2","k":"MN","v":0.62},{"p":"B2","k":"MN","v":0.47},{"p":"B2","k":"MN","v":0.3},{"p":"B2","k":"MN","v":0.55},
{"p":"B2","k":"UC","v":0.62},{"p":"B2","k":"UC","v":0.7},{"p":"B2","k":"UC","v":0.56},{"p":"B2","k":"UC","v":0.66},{"p":"B2","k":"UC","v":0.72},{"p":"B2","k":"UC","v":0.6},{"p":"B2","k":"UC","v":0.64},
{"p":"B2","k":"UN","v":0.65},{"p":"B2","k":"UN","v":0.98},{"p":"B2","k":"UN","v":0.35},{"p":"B2","k":"UN","v":0.75},{"p":"B2","k":"UN","v":0.7},{"p":"B2","k":"UN","v":1.34},{"p":"B2","k":"UN","v":0.68},{"p":"B2","k":"UN","v":0.93},{"p":"B2","k":"UN","v":0.72},
{"p":"B3","k":"HC","v":1.0},{"p":"B3","k":"HC","v":0.82},{"p":"B3","k":"HC","v":1.12},{"p":"B3","k":"HC","v":0.98},{"p":"B3","k":"HC","v":0.8},{"p":"B3","k":"HC","v":1.1},{"p":"B3","k":"HC","v":0.95},{"p":"B3","k":"HC","v":0.5},{"p":"B3","k":"HC","v":1.08},{"p":"B3","k":"HC","v":0.93},{"p":"B3","k":"HC","v":1.25},{"p":"B3","k":"HC","v":1.05},{"p":"B3","k":"HC","v":0.9},{"p":"B3","k":"HC","v":1.2},{"p":"B3","k":"HC","v":1.03},{"p":"B3","k":"HC","v":0.88},{"p":"B3","k":"HC","v":1.18},{"p":"B3","k":"HC","v":1.0},{"p":"B3","k":"HC","v":0.85},{"p":"B3","k":"HC","v":1.15},
{"p":"B3","k":"HN","v":2.55},{"p":"B3","k":"HN","v":1.35},{"p":"B3","k":"HN","v":0.55},{"p":"B3","k":"HN","v":1.9},{"p":"B3","k":"HN","v":0.95},{"p":"B3","k":"HN","v":2.8},{"p":"B3","k":"HN","v":1.45},{"p":"B3","k":"HN","v":0.7},{"p":"B3","k":"HN","v":2.2},{"p":"B3","k":"HN","v":1.1},{"p":"B3","k":"HN","v":3.2},{"p":"B3","k":"HN","v":1.55},{"p":"B3","k":"HN","v":0.8},{"p":"B3","k":"HN","v":2.45},{"p":"B3","k":"HN","v":1.3},{"p":"B3","k":"HN","v":4.0},{"p":"B3","k":"HN","v":1.7},{"p":"B3","k":"HN","v":0.9},{"p":"B3","k":"HN","v":2.6},{"p":"B3","k":"HN","v":1.4},{"p":"B3","k":"HN","v":0.6},{"p":"B3","k":"HN","v":2.0},{"p":"B3","k":"HN","v":1.0},{"p":"B3","k":"HN","v":3.15},{"p":"B3","k":"HN","v":1.5},{"p":"B3","k":"HN","v":0.75},{"p":"B3","k":"HN","v":2.2},{"p":"B3","k":"HN","v":1.2},{"p":"B3","k":"HN","v":3.3},{"p":"B3","k":"HN","v":1.65},{"p":"B3","k":"HN","v":0.85},
{"p":"B3","k":"LC","v":0.7},{"p":"B3","k":"LC","v":0.42},{"p":"B3","k":"LC","v":0.8},{"p":"B3","k":"LC","v":0.52},{"p":"B3","k":"LC","v":0.95},{"p":"B3","k":"LC","v":0.62},{"p":"B3","k":"LC","v":1.25},{"p":"B3","k":"LC","v":0.72},{"p":"B3","k":"LC","v":0.45},{"p":"B3","k":"LC","v":0.85},{"p":"B3","k":"LC","v":0.55},{"p":"B3","k":"LC","v":1.0},{"p":"B3","k":"LC","v":0.65},{"p":"B3","k":"LC","v":1.3},{"p":"B3","k":"LC","v":0.75},{"p":"B3","k":"LC","v":0.48},{"p":"B3","k":"LC","v":0.88},{"p":"B3","k":"LC","v":0.58},{"p":"B3","k":"LC","v":1.05},{"p":"B3","k":"LC","v":0.68},{"p":"B3","k":"LC","v":0.4},{"p":"B3","k":"LC","v":0.78},{"p":"B3","k":"LC","v":0.5},{"p":"B3","k":"LC","v":0.9},{"p":"B3","k":"LC","v":0.6},{"p":"B3","k":"LC","v":1.1},
{"p":"B3","k":"LN","v":0.72},{"p":"B3","k":"LN","v":2.12},{"p":"B3","k":"LN","v":0.9},{"p":"B3","k":"LN","v":0.55},{"p":"B3","k":"LN","v":1.2},{"p":"B3","k":"LN","v":0.8},{"p":"B3","k":"LN","v":0.38},{"p":"B3","k":"LN","v":1.0},{"p":"B3","k":"LN","v":0.7},{"p":"B3","k":"LN","v":1.68},{"p":"B3","k":"LN","v":0.88},{"p":"B3","k":"LN","v":0.5},{"p":"B3","k":"LN","v":1.15},{"p":"B3","k":"LN","v":0.78},{"p":"B3","k":"LN","v":2.35},{"p":"B3","k":"LN","v":0.95},{"p":"B3","k":"LN","v":0.65},{"p":"B3","k":"LN","v":1.4},{"p":"B3","k":"LN","v":0.85},{"p":"B3","k":"LN","v":0.45},{"p":"B3","k":"LN","v":1.05},{"p":"B3","k":"LN","v":0.75},{"p":"B3","k":"LN","v":2.15},{"p":"B3","k":"LN","v":0.9},{"p":"B3","k":"LN","v":0.6},{"p":"B3","k":"LN","v":1.3},{"p":"B3","k":"LN","v":0.82},{"p":"B3","k":"LN","v":0.4},{"p":"B3","k":"LN","v":1.0},
{"p":"B3","k":"MC","v":0.55},{"p":"B3","k":"MC","v":0.44},{"p":"B3","k":"MC","v":0.75},{"p":"B3","k":"MC","v":0.6},{"p":"B3","k":"MC","v":0.5},{"p":"B3","k":"MC","v":0.36},{"p":"B3","k":"MC","v":0.65},{"p":"B3","k":"MC","v":0.55},{"p":"B3","k":"MC","v":0.42},{"p":"B3","k":"MC","v":0.72},{"p":"B3","k":"MC","v":0.58},{"p":"B3","k":"MC","v":0.48},{"p":"B3","k":"MC","v":0.8},{"p":"B3","k":"MC","v":0.62},{"p":"B3","k":"MC","v":0.53},{"p":"B3","k":"MC","v":0.4},{"p":"B3","k":"MC","v":0.7},{"p":"B3","k":"MC","v":0.56},{"p":"B3","k":"MC","v":0.46},{"p":"B3","k":"MC","v":0.78},{"p":"B3","k":"MC","v":0.6},{"p":"B3","k":"MC","v":0.52},{"p":"B3","k":"MC","v":0.38},{"p":"B3","k":"MC","v":0.68},
{"p":"B3","k":"MN","v":0.85},{"p":"B3","k":"MN","v":0.58},{"p":"B3","k":"MN","v":0.35},{"p":"B3","k":"MN","v":0.72},{"p":"B3","k":"MN","v":0.5},{"p":"B3","k":"MN","v":1.15},{"p":"B3","k":"MN","v":0.65},{"p":"B3","k":"MN","v":0.45},{"p":"B3","k":"MN","v":0.9},{"p":"B3","k":"MN","v":0.6},{"p":"B3","k":"MN","v":0.38},{"p":"B3","k":"MN","v":0.75},{"p":"B3","k":"MN","v":0.52},{"p":"B3","k":"MN","v":1.6},{"p":"B3","k":"MN","v":0.68},{"p":"B3","k":"MN","v":0.48},{"p":"B3","k":"MN","v":0.95},{"p":"B3","k":"MN","v":0.6},{"p":"B3","k":"MN","v":0.4},{"p":"B3","k":"MN","v":0.8},{"p":"B3","k":"MN","v":0.55},{"p":"B3","k":"MN","v":0.32},{"p":"B3","k":"MN","v":0.7},{"p":"B3","k":"MN","v":0.5},{"p":"B3","k":"MN","v":1.0},{"p":"B3","k":"MN","v":0.62},{"p":"B3","k":"MN","v":0.42},
{"p":"B3","k":"UC","v":1.0},{"p":"B3","k":"UC","v":1.18},{"p":"B3","k":"UC","v":0.9},{"p":"B3","k":"UC","v":1.1},{"p":"B3","k":"UC","v":0.95},{"p":"B3","k":"UC","v":1.15},{"p":"B3","k":"UC","v":0.88},{"p":"B3","k":"UC","v":1.05},
{"p":"B3","k":"UN","v":1.4},{"p":"B3","k":"UN","v":0.9},{"p":"B3","k":"UN","v":1.25},{"p":"B3","k":"UN","v":3.2},{"p":"B3","k":"UN","v":2.25},{"p":"B3","k":"UN","v":0.8},{"p":"B3","k":"UN","v":1.68},{"p":"B3","k":"UN","v":0.78},{"p":"B3","k":"UN","v":1.7},{"p":"B3","k":"UN","v":0.82},
{"p":"B4","k":"HC","v":260},{"p":"B4","k":"HC","v":345},{"p":"B4","k":"HC","v":215},{"p":"B4","k":"HC","v":270},{"p":"B4","k":"HC","v":200},{"p":"B4","k":"HC","v":258},{"p":"B4","k":"HC","v":320},{"p":"B4","k":"HC","v":210},{"p":"B4","k":"HC","v":265},{"p":"B4","k":"HC","v":195},{"p":"B4","k":"HC","v":255},{"p":"B4","k":"HC","v":280},{"p":"B4","k":"HC","v":220},{"p":"B4","k":"HC","v":262},{"p":"B4","k":"HC","v":240},
{"p":"B4","k":"HN","v":205},{"p":"B4","k":"HN","v":140},{"p":"B4","k":"HN","v":285},{"p":"B4","k":"HN","v":175},{"p":"B4","k":"HN","v":115},{"p":"B4","k":"HN","v":255},{"p":"B4","k":"HN","v":160},{"p":"B4","k":"HN","v":325},{"p":"B4","k":"HN","v":215},{"p":"B4","k":"HN","v":150},{"p":"B4","k":"HN","v":300},{"p":"B4","k":"HN","v":200},{"p":"B4","k":"HN","v":135},{"p":"B4","k":"HN","v":270},{"p":"B4","k":"HN","v":165},{"p":"B4","k":"HN","v":335},{"p":"B4","k":"HN","v":245},{"p":"B4","k":"HN","v":155},{"p":"B4","k":"HN","v":320},{"p":"B4","k":"HN","v":210},{"p":"B4","k":"HN","v":145},{"p":"B4","k":"HN","v":290},{"p":"B4","k":"HN","v":190},{"p":"B4","k":"HN","v":130},{"p":"B4","k":"HN","v":260},{"p":"B4","k":"HN","v":165},{"p":"B4","k":"HN","v":330},{"p":"B4","k":"HN","v":230},{"p":"B4","k":"HN","v":150},{"p":"B4","k":"HN","v":305},
{"p":"B4","k":"LC","v":220},{"p":"B4","k":"LC","v":350},{"p":"B4","k":"LC","v":260},{"p":"B4","k":"LC","v":170},{"p":"B4","k":"LC","v":300},{"p":"B4","k":"LC","v":225},{"p":"B4","k":"LC","v":365},{"p":"B4","k":"LC","v":265},{"p":"B4","k":"LC","v":180},{"p":"B4","k":"LC","v":310},{"p":"B4","k":"LC","v":230},{"p":"B4","k":"LC","v":380},{"p":"B4","k":"LC","v":270},{"p":"B4","k":"LC","v":190},{"p":"B4","k":"LC","v":320},{"p":"B4","k":"LC","v":240},{"p":"B4","k":"LC","v":405},{"p":"B4","k":"LC","v":275},{"p":"B4","k":"LC","v":200},{"p":"B4","k":"LC","v":330},{"p":"B4","k":"LC","v":245},{"p":"B4","k":"LC","v":135},{"p":"B4","k":"LC","v":280},{"p":"B4","k":"LC","v":210},{"p":"B4","k":"LC","v":335},{"p":"B4","k":"LC","v":250},{"p":"B4","k":"LC","v":150},{"p":"B4","k":"LC","v":285},{"p":"B4","k":"LC","v":215},{"p":"B4","k":"LC","v":340},{"p":"B4","k":"LC","v":255},{"p":"B4","k":"LC","v":160},{"p":"B4","k":"LC","v":290},
{"p":"B4","k":"LN","v":225},{"p":"B4","k":"LN","v":130},{"p":"B4","k":"LN","v":260},{"p":"B4","k":"LN","v":180},{"p":"B4","k":"LN","v":320},{"p":"B4","k":"LN","v":220},{"p":"B4","k":"LN","v":120},{"p":"B4","k":"LN","v":250},{"p":"B4","k":"LN","v":175},{"p":"B4","k":"LN","v":310},{"p":"B4","k":"LN","v":215},{"p":"B4","k":"LN","v":115},{"p":"B4","k":"LN","v":245},{"p":"B4","k":"LN","v":170},{"p":"B4","k":"LN","v":300},{"p":"B4","k":"LN","v":210},{"p":"B4","k":"LN","v":400},{"p":"B4","k":"LN","v":240},{"p":"B4","k":"LN","v":160},{"p":"B4","k":"LN","v":290},{"p":"B4","k":"LN","v":200},{"p":"B4","k":"LN","v":340},{"p":"B4","k":"LN","v":235},{"p":"B4","k":"LN","v":150},{"p":"B4","k":"LN","v":280},{"p":"B4","k":"LN","v":195},{"p":"B4","k":"LN","v":335},{"p":"B4","k":"LN","v":230},{"p":"B4","k":"LN","v":140},{"p":"B4","k":"LN","v":270},{"p":"B4","k":"LN","v":190},{"p":"B4","k":"LN","v":330},
{"p":"B4","k":"MC","v":250},{"p":"B4","k":"MC","v":150},{"p":"B4","k":"MC","v":280},{"p":"B4","k":"MC","v":200},{"p":"B4","k":"MC","v":380},{"p":"B4","k":"MC","v":255},{"p":"B4","k":"MC","v":160},{"p":"B4","k":"MC","v":300},{"p":"B4","k":"MC","v":210},{"p":"B4","k":"MC","v":385},{"p":"B4","k":"MC","v":260},{"p":"B4","k":"MC","v":175},{"p":"B4","k":"MC","v":320},{"p":"B4","k":"MC","v":220},{"p":"B4","k":"MC","v":430},{"p":"B4","k":"MC","v":265},{"p":"B4","k":"MC","v":180},{"p":"B4","k":"MC","v":330},{"p":"B4","k":"MC","v":230},{"p":"B4","k":"MC","v":130},{"p":"B4","k":"MC","v":270},{"p":"B4","k":"MC","v":190},{"p":"B4","k":"MC","v":340},{"p":"B4","k":"MC","v":240},{"p":"B4","k":"MC","v":140},{"p":"B4","k":"MC","v":275},{"p":"B4","k":"MC","v":195},{"p":"B4","k":"MC","v":380},
{"p":"B4","k":"MN","v":225},{"p":"B4","k":"MN","v":145},{"p":"B4","k":"MN","v":260},{"p":"B4","k":"MN","v":190},{"p":"B4","k":"MN","v":310},{"p":"B4","k":"MN","v":220},{"p":"B4","k":"MN","v":100},{"p":"B4","k":"MN","v":250},{"p":"B4","k":"MN","v":185},{"p":"B4","k":"MN","v":300},{"p":"B4","k":"MN","v":215},{"p":"B4","k":"MN","v":95},{"p":"B4","k":"MN","v":245},{"p":"B4","k":"MN","v":180},{"p":"B4","k":"MN","v":290},{"p":"B4","k":"MN","v":210},{"p":"B4","k":"MN","v":360},{"p":"B4","k":"MN","v":240},{"p":"B4","k":"MN","v":170},{"p":"B4","k":"MN","v":285},{"p":"B4","k":"MN","v":205},{"p":"B4","k":"MN","v":345},{"p":"B4","k":"MN","v":235},{"p":"B4","k":"MN","v":160},{"p":"B4","k":"MN","v":280},{"p":"B4","k":"MN","v":200},{"p":"B4","k":"MN","v":335},{"p":"B4","k":"MN","v":230},{"p":"B4","k":"MN","v":150},{"p":"B4","k":"MN","v":270},{"p":"B4","k":"MN","v":195},{"p":"B4","k":"MN","v":330},
{"p":"B4","k":"UC","v":260},{"p":"B4","k":"UC","v":205},{"p":"B4","k":"UC","v":285},{"p":"B4","k":"UC","v":255},{"p":"B4","k":"UC","v":310},{"p":"B4","k":"UC","v":250},{"p":"B4","k":"UC","v":210},{"p":"B4","k":"UC","v":280},
{"p":"B4","k":"UN","v":170},{"p":"B4","k":"UN","v":160},{"p":"B4","k":"UN","v":320},{"p":"B4","k":"UN","v":140},{"p":"B4","k":"UN","v":260},{"p":"B4","k":"UN","v":215},{"p":"B4","k":"UN","v":150},{"p":"B4","k":"UN","v":280},{"p":"B4","k":"UN","v":300},{"p":"B4","k":"UN","v":200},
{"p":"B5","k":"HC","v":145},{"p":"B5","k":"HC","v":178},{"p":"B5","k":"HC","v":115},{"p":"B5","k":"HC","v":200},{"p":"B5","k":"HC","v":130},{"p":"B5","k":"HC","v":160},{"p":"B5","k":"HC","v":105},{"p":"B5","k":"HC","v":175},{"p":"B5","k":"HC","v":140},{"p":"B5","k":"HC","v":120},{"p":"B5","k":"HC","v":150},{"p":"B5","k":"HC","v":110},{"p":"B5","k":"HC","v":135},
{"p":"B5","k":"HN","v":145},{"p":"B5","k":"HN","v":75},{"p":"B5","k":"HN","v":30},{"p":"B5","k":"HN","v":100},{"p":"B5","k":"HN","v":55},{"p":"B5","k":"HN","v":160},{"p":"B5","k":"HN","v":80},{"p":"B5","k":"HN","v":40},{"p":"B5","k":"HN","v":120},{"p":"B5","k":"HN","v":60},{"p":"B5","k":"HN","v":168},{"p":"B5","k":"HN","v":90},{"p":"B5","k":"HN","v":45},{"p":"B5","k":"HN","v":140},{"p":"B5","k":"HN","v":70},{"p":"B5","k":"HN","v":225},{"p":"B5","k":"HN","v":100},{"p":"B5","k":"HN","v":50},{"p":"B5","k":"HN","v":150},{"p":"B5","k":"HN","v":78},{"p":"B5","k":"HN","v":35},{"p":"B5","k":"HN","v":110},{"p":"B5","k":"HN","v":60},{"p":"B5","k":"HN","v":165},{"p":"B5","k":"HN","v":85},{"p":"B5","k":"HN","v":42},{"p":"B5","k":"HN","v":130},{"p":"B5","k":"HN","v":65},{"p":"B5","k":"HN","v":170},{"p":"B5","k":"HN","v":95},{"p":"B5","k":"HN","v":48},
{"p":"B5","k":"LC","v":140},{"p":"B5","k":"LC","v":95},{"p":"B5","k":"LC","v":170},{"p":"B5","k":"LC","v":120},{"p":"B5","k":"LC","v":195},{"p":"B5","k":"LC","v":145},{"p":"B5","k":"LC","v":100},{"p":"B5","k":"LC","v":170},{"p":"B5","k":"LC","v":125},{"p":"B5","k":"LC","v":200},{"p":"B5","k":"LC","v":150},{"p":"B5","k":"LC","v":105},{"p":"B5","k":"LC","v":175},{"p":"B5","k":"LC","v":130},{"p":"B5","k":"LC","v":205},{"p":"B5","k":"LC","v":155},{"p":"B5","k":"LC","v":110},{"p":"B5","k":"LC","v":180},{"p":"B5","k":"LC","v":135},{"p":"B5","k":"LC","v":75},{"p":"B5","k":"LC","v":160},{"p":"B5","k":"LC","v":115},{"p":"B5","k":"LC","v":185},{"p":"B5","k":"LC","v":140},{"p":"B5","k":"LC","v":90},{"p":"B5","k":"LC","v":165},{"p":"B5","k":"LC","v":115},{"p":"B5","k":"LC","v":190},
{"p":"B5","k":"LN","v":120},{"p":"B5","k":"LN","v":55},{"p":"B5","k":"LN","v":150},{"p":"B5","k":"LN","v":85},{"p":"B5","k":"LN","v":185},{"p":"B5","k":"LN","v":115},{"p":"B5","k":"LN","v":50},{"p":"B5","k":"LN","v":140},{"p":"B5","k":"LN","v":80},{"p":"B5","k":"LN","v":180},{"p":"B5","k":"LN","v":110},{"p":"B5","k":"LN","v":50},{"p":"B5","k":"LN","v":135},{"p":"B5","k":"LN","v":75},{"p":"B5","k":"LN","v":175},{"p":"B5","k":"LN","v":100},{"p":"B5","k":"LN","v":260},{"p":"B5","k":"LN","v":130},{"p":"B5","k":"LN","v":70},{"p":"B5","k":"LN","v":170},{"p":"B5","k":"LN","v":95},{"p":"B5","k":"LN","v":245},{"p":"B5","k":"LN","v":130},{"p":"B5","k":"LN","v":65},{"p":"B5","k":"LN","v":165},{"p":"B5","k":"LN","v":90},{"p":"B5","k":"LN","v":195},{"p":"B5","k":"LN","v":125},{"p":"B5","k":"LN","v":60},{"p":"B5","k":"LN","v":160},{"p":"B5","k":"LN","v":85},{"p":"B5","k":"LN","v":190},
{"p":"B5","k":"MC","v":235},{"p":"B5","k":"MC","v":180},{"p":"B5","k":"MC","v":110},{"p":"B5","k":"MC","v":210},{"p":"B5","k":"MC","v":165},{"p":"B5","k":"MC","v":285},{"p":"B5","k":"MC","v":195},{"p":"B5","k":"MC","v":140},{"p":"B5","k":"MC","v":240},{"p":"B5","k":"MC","v":185},{"p":"B5","k":"MC","v":120},{"p":"B5","k":"MC","v":215},{"p":"B5","k":"MC","v":170},{"p":"B5","k":"MC","v":335},{"p":"B5","k":"MC","v":200},{"p":"B5","k":"MC","v":150},{"p":"B5","k":"MC","v":260},{"p":"B5","k":"MC","v":190},{"p":"B5","k":"MC","v":125},{"p":"B5","k":"MC","v":220},{"p":"B5","k":"MC","v":175},{"p":"B5","k":"MC","v":110},{"p":"B5","k":"MC","v":205},{"p":"B5","k":"MC","v":160},{"p":"B5","k":"MC","v":280},{"p":"B5","k":"MC","v":190},{"p":"B5","k":"MC","v":130},
{"p":"B5","k":"MN","v":125},{"p":"B5","k":"MN","v":210},{"p":"B5","k":"MN","v":160},{"p":"B5","k":"MN","v":105},{"p":"B5","k":"MN","v":190},{"p":"B5","k":"MN","v":140},{"p":"B5","k":"MN","v":65},{"p":"B5","k":"MN","v":170},{"p":"B5","k":"MN","v":120},{"p":"B5","k":"MN","v":205},{"p":"B5","k":"MN","v":155},{"p":"B5","k":"MN","v":100},{"p":"B5","k":"MN","v":185},{"p":"B5","k":"MN","v":135},{"p":"B5","k":"MN","v":225},{"p":"B5","k":"MN","v":165},{"p":"B5","k":"MN","v":115},{"p":"B5","k":"MN","v":200},{"p":"B5","k":"MN","v":150},{"p":"B5","k":"MN","v":95},{"p":"B5","k":"MN","v":180},{"p":"B5","k":"MN","v":130},{"p":"B5","k":"MN","v":215},{"p":"B5","k":"MN","v":160},{"p":"B5","k":"MN","v":110},{"p":"B5","k":"MN","v":195},{"p":"B5","k":"MN","v":145},{"p":"B5","k":"MN","v":75},{"p":"B5","k":"MN","v":175},
{"p":"B5","k":"UC","v":145},{"p":"B5","k":"UC","v":130},{"p":"B5","k":"UC","v":175},{"p":"B5","k":"UC","v":125},{"p":"B5","k":"UC","v":135},{"p":"B5","k":"UC","v":120},{"p":"B5","k":"UC","v":128},
{"p":"B5","k":"UN","v":70},{"p":"B5","k":"UN","v":165},{"p":"B5","k":"UN","v":60},{"p":"B5","k":"UN","v":155},{"p":"B5","k":"UN","v":100},{"p":"B5","k":"UN","v":50},{"p":"B5","k":"UN","v":170},{"p":"B5","k":"UN","v":80},{"p":"B5","k":"UN","v":95}
],
"means":[
{"p":"C1","k":"HC","m":3.8},{"p":"C1","k":"HN","m":4.0},{"p":"C1","k":"LC","m":3.35},{"p":"C1","k":"LN","m":3.2},{"p":"C1","k":"UC","m":3.75},{"p":"C1","k":"UN","m":3.95},
{"p":"C2","k":"HC","m":1.48},{"p":"C2","k":"HN","m":1.4},{"p":"C2","k":"LC","m":1.28},{"p":"C2","k":"LN","m":1.3},{"p":"C2","k":"UC","m":1.43},{"p":"C2","k":"UN","m":1.43},
{"p":"C3","k":"HC","m":2.3},{"p":"C3","k":"HN","m":2.4},{"p":"C3","k":"LC","m":2.15},{"p":"C3","k":"LN","m":2.25},{"p":"C3","k":"UC","m":2.2},{"p":"C3","k":"UN","m":2.1},
{"p":"C4","k":"HC","m":147},{"p":"C4","k":"HN","m":150},{"p":"C4","k":"LC","m":162},{"p":"C4","k":"LN","m":173},{"p":"C4","k":"UC","m":147},{"p":"C4","k":"UN","m":155},
{"p":"C5","k":"HC","m":61},{"p":"C5","k":"HN","m":58},{"p":"C5","k":"LC","m":74},{"p":"C5","k":"LN","m":71},{"p":"C5","k":"UC","m":68.5},{"p":"C5","k":"UN","m":59.5},
{"p":"D1","k":"HC","m":2.5},{"p":"D1","k":"HN","m":3.9},{"p":"D1","k":"LC","m":1.8},{"p":"D1","k":"LN","m":2.55},{"p":"D1","k":"UC","m":2.0},{"p":"D1","k":"UN","m":2.75},
{"p":"D2","k":"HC","m":1.03},{"p":"D2","k":"HN","m":1.06},{"p":"D2","k":"LC","m":0.77},{"p":"D2","k":"LN","m":0.93},{"p":"D2","k":"UC","m":0.88},{"p":"D2","k":"UN","m":1.17},
{"p":"D3","k":"HC","m":1.38},{"p":"D3","k":"HN","m":2.65},{"p":"D3","k":"LC","m":1.0},{"p":"D3","k":"LN","m":1.55},{"p":"D3","k":"UC","m":1.1},{"p":"D3","k":"UN","m":1.88},
{"p":"D4","k":"HC","m":192},{"p":"D4","k":"HN","m":168},{"p":"D4","k":"LC","m":203},{"p":"D4","k":"LN","m":145},{"p":"D4","k":"UC","m":197},{"p":"D4","k":"UN","m":163},
{"p":"D5","k":"HC","m":95},{"p":"D5","k":"HN","m":62},{"p":"D5","k":"LC","m":123},{"p":"D5","k":"LN","m":90},{"p":"D5","k":"UC","m":86},{"p":"D5","k":"UN","m":74},
{"p":"B1","k":"HC","m":1.7},{"p":"B1","k":"HN","m":2.45},{"p":"B1","k":"LC","m":1.25},{"p":"B1","k":"LN","m":1.45},{"p":"B1","k":"MC","m":0.97},{"p":"B1","k":"MN","m":1.12},{"p":"B1","k":"UC","m":1.62},{"p":"B1","k":"UN","m":2.3},
{"p":"B2","k":"HC","m":0.7},{"p":"B2","k":"HN","m":0.88},{"p":"B2","k":"LC","m":0.45},{"p":"B2","k":"LN","m":0.56},{"p":"B2","k":"MC","m":0.42},{"p":"B2","k":"MN","m":0.5},{"p":"B2","k":"UC","m":0.64},{"p":"B2","k":"UN","m":0.78},
{"p":"B3","k":"HC","m":1.0},{"p":"B3","k":"HN","m":1.55},{"p":"B3","k":"LC","m":0.75},{"p":"B3","k":"LN","m":0.88},{"p":"B3","k":"MC","m":0.57},{"p":"B3","k":"MN","m":0.62},{"p":"B3","k":"UC","m":1.02},{"p":"B3","k":"UN","m":1.55},
{"p":"B4","k":"HC","m":262},{"p":"B4","k":"HN","m":212},{"p":"B4","k":"LC","m":260},{"p":"B4","k":"LN","m":225},{"p":"B4","k":"MC","m":258},{"p":"B4","k":"MN","m":228},{"p":"B4","k":"UC","m":260},{"p":"B4","k":"UN","m":220},
{"p":"B5","k":"HC","m":140},{"p":"B5","k":"HN","m":97},{"p":"B5","k":"LC","m":140},{"p":"B5","k":"LN","m":128},{"p":"B5","k":"MC","m":185},{"p":"B5","k":"MN","m":155},{"p":"B5","k":"UC","m":132},{"p":"B5","k":"UN","m":105}
],
"pairs":[
{"p":"C1","g":"HTM","s":""},{"p":"C1","g":"LTM","s":""},{"p":"C1","g":"UN","s":""},
{"p":"C2","g":"HTM","s":""},{"p":"C2","g":"LTM","s":""},{"p":"C2","g":"UN","s":""},
{"p":"C3","g":"HTM","s":""},{"p":"C3","g":"LTM","s":""},{"p":"C3","g":"UN","s":""},
{"p":"C4","g":"HTM","s":""},{"p":"C4","g":"LTM","s":""},{"p":"C4","g":"UN","s":""},
{"p":"C5","g":"HTM","s":""},{"p":"C5","g":"LTM","s":""},{"p":"C5","g":"UN","s":""},
{"p":"D1","g":"HTM","s":"*"},{"p":"D1","g":"LTM","s":""},{"p":"D1","g":"UN","s":""},
{"p":"D2","g":"HTM","s":""},{"p":"D2","g":"LTM","s":""},{"p":"D2","g":"UN","s":""},
{"p":"D3","g":"HTM","s":"*"},{"p":"D3","g":"LTM","s":""},{"p":"D3","g":"UN","s":""},
{"p":"D4","g":"HTM","s":""},{"p":"D4","g":"LTM","s":"*"},{"p":"D4","g":"UN","s":""},
{"p":"D5","g":"HTM","s":"*"},{"p":"D5","g":"LTM","s":"*"},{"p":"D5","g":"UN","s":""},
{"p":"B1","g":"HTM","s":"***"},{"p":"B1","g":"LTMa","s":"*"},{"p":"B1","g":"LTMb","s":"*"},{"p":"B1","g":"UN","s":"*"},
{"p":"B2","g":"HTM","s":"*"},{"p":"B2","g":"LTMa","s":"**"},{"p":"B2","g":"LTMb","s":"*"},{"p":"B2","g":"UN","s":""},
{"p":"B3","g":"HTM","s":"**"},{"p":"B3","g":"LTMa","s":"*"},{"p":"B3","g":"LTMb","s":"*"},{"p":"B3","g":"UN","s":""},
{"p":"B4","g":"HTM","s":"*"},{"p":"B4","g":"LTMa","s":"**"},{"p":"B4","g":"LTMb","s":"*"},{"p":"B4","g":"UN","s":""},
{"p":"B5","g":"HTM","s":"*"},{"p":"B5","g":"LTMa","s":""},{"p":"B5","g":"LTMb","s":"**"},{"p":"B5","g":"UN","s":""}
]
},
"concat":[
{"width":189,"height":129,"title":"C-fiber neurons","layer":[
 {"data":{"name":"pts"},"transform":[{"filter":"datum.p=='C1'"},{"window":[{"op":"cume_dist","as":"j"}],"groupby":["k"]}],"mark":{"type":"point","size":20,"strokeWidth":1,"opacity":1},
  "encoding":{"x":{"field":"k","type":"nominal","scale":{"type":"band","domain":["HC","HN","LC","LN","UC","UN"]},"axis":{"title":null,"orient":"bottom","labelExpr":"datum.value[1]=='C'?'Control':'NeP'"}},
   "xOffset":{"field":"j","type":"quantitative","scale":{"domain":[0,1],"range":[4,25]}},
   "y":{"field":"v","type":"quantitative","scale":{"domain":[0,8]},"axis":{"title":"APdB (ms)","values":[0,1,2,3,4,5,6,7,8]}},
   "shape":{"condition":[{"test":"datum.k[0]=='L'","value":"triangle-up"},{"test":"datum.k[0]=='M'","value":"triangle-down"},{"test":"datum.k[0]=='U'","value":"square"}],"value":"circle"},
   "fill":{"condition":{"test":"datum.k[1]=='C'","value":"#1a1a1a"},"value":"#ffffff"},
   "stroke":{"condition":{"test":"datum.k[1]=='C'","value":"#1a1a1a"},"value":"#707070"}}},
 {"data":{"name":"means"},"transform":[{"filter":"datum.p=='C1'"}],"mark":{"type":"tick","size":20,"opacity":1},
  "encoding":{"x":{"field":"k","type":"nominal","scale":{"type":"band","domain":["HC","HN","LC","LN","UC","UN"]},"axis":null},"y":{"field":"m","type":"quantitative","axis":{"title":"APdB (ms)","values":[0,1,2,3,4,5,6,7,8]}}}},
 {"data":{"name":"pairs"},"transform":[{"filter":"datum.p=='C1'"}],"mark":{"type":"text","fontSize":16,"color":"#888","baseline":"alphabetic","dy":5},
  "encoding":{"x":{"field":"g","type":"nominal","scale":{"type":"band","domain":["HTM","LTM","UN"]},"axis":{"title":null,"orient":"bottom","offset":19,"ticks":false,"domainColor":"#8a8a8a","domainWidth":1.5,"labelPadding":3}},"y":{"datum":8,"type":"quantitative","axis":{"title":"APdB (ms)","values":[0,1,2,3,4,5,6,7,8]}},"text":{"field":"s"}}}
],"resolve":{"scale":{"x":"independent"},"axis":{"x":"independent"}}},
{"width":202,"height":129,"title":"Aδ-fiber neurons","layer":[
 {"data":{"name":"pts"},"transform":[{"filter":"datum.p=='D1'"},{"window":[{"op":"cume_dist","as":"j"}],"groupby":["k"]}],"mark":{"type":"point","size":20,"strokeWidth":1,"opacity":1},
  "encoding":{"x":{"field":"k","type":"nominal","scale":{"type":"band","paddingOuter":0.2,"domain":["HC","HN","LC","LN","UC","UN"]},"axis":{"title":null,"orient":"bottom","labelExpr":"datum.value[1]=='C'?'Control':'NeP'"}},
   "xOffset":{"field":"j","type":"quantitative","scale":{"domain":[0,1],"range":[4,26]}},
   "y":{"field":"v","type":"quantitative","scale":{"domain":[0,8]},"axis":{"title":"APdB (ms)","values":[0,1,2,3,4,5,6,7,8]}},
   "shape":{"condition":[{"test":"datum.k[0]=='L'","value":"triangle-up"},{"test":"datum.k[0]=='M'","value":"triangle-down"},{"test":"datum.k[0]=='U'","value":"square"}],"value":"circle"},
   "fill":{"condition":{"test":"datum.k[1]=='C'","value":"#1a1a1a"},"value":"#ffffff"},
   "stroke":{"condition":{"test":"datum.k[1]=='C'","value":"#1a1a1a"},"value":"#707070"}}},
 {"data":{"name":"means"},"transform":[{"filter":"datum.p=='D1'"}],"mark":{"type":"tick","size":20,"opacity":1},
  "encoding":{"x":{"field":"k","type":"nominal","scale":{"type":"band","paddingOuter":0.2,"domain":["HC","HN","LC","LN","UC","UN"]},"axis":null},"y":{"field":"m","type":"quantitative","axis":{"title":"APdB (ms)","values":[0,1,2,3,4,5,6,7,8]}}}},
 {"data":{"name":"pairs"},"transform":[{"filter":"datum.p=='D1'"}],"mark":{"type":"text","fontSize":16,"color":"#888","baseline":"alphabetic","dy":5},
  "encoding":{"x":{"field":"g","type":"nominal","scale":{"type":"band","paddingOuter":0.1,"domain":["HTM","LTM","UN"]},"axis":{"title":null,"orient":"bottom","offset":19,"ticks":false,"domainColor":"#8a8a8a","domainWidth":1.5,"labelPadding":3}},"y":{"datum":8,"type":"quantitative","axis":{"title":"APdB (ms)","values":[0,1,2,3,4,5,6,7,8]}},"text":{"field":"s"}}}
],"resolve":{"scale":{"x":"independent"},"axis":{"x":"independent"}}},
{"width":200,"height":129,"title":"Aβ-fiber neurons","layer":[
 {"data":{"name":"pts"},"transform":[{"filter":"datum.p=='B1'"},{"window":[{"op":"cume_dist","as":"j"}],"groupby":["k"]}],"mark":{"type":"point","size":16,"strokeWidth":1,"opacity":1},
  "encoding":{"x":{"field":"k","type":"nominal","scale":{"type":"band","domain":["HC","HN","LC","LN","MC","MN","UC","UN"]},"axis":{"title":null,"orient":"bottom","labelFontSize":9.5,"labelExpr":"datum.value[1]=='C'?'Control':'NeP'"}},
   "xOffset":{"field":"j","type":"quantitative","scale":{"domain":[0,1],"range":[1,22]}},
   "y":{"field":"v","type":"quantitative","scale":{"domain":[0,5]},"axis":{"title":"APdB (ms)","values":[0,1,2,3,4,5]}},
   "shape":{"condition":[{"test":"datum.k[0]=='L'","value":"triangle-up"},{"test":"datum.k[0]=='M'","value":"triangle-down"},{"test":"datum.k[0]=='U'","value":"square"}],"value":"circle"},
   "fill":{"condition":{"test":"datum.k[1]=='C'","value":"#1a1a1a"},"value":"#ffffff"},
   "stroke":{"condition":{"test":"datum.k[1]=='C'","value":"#1a1a1a"},"value":"#707070"}}},
 {"data":{"name":"means"},"transform":[{"filter":"datum.p=='B1'"}],"mark":{"type":"tick","size":17,"opacity":1},
  "encoding":{"x":{"field":"k","type":"nominal","scale":{"type":"band","domain":["HC","HN","LC","LN","MC","MN","UC","UN"]},"axis":null},"y":{"field":"m","type":"quantitative","axis":{"title":"APdB (ms)","values":[0,1,2,3,4,5]}}}},
 {"data":{"name":"pairs"},"transform":[{"filter":"datum.p=='B1'"}],"mark":{"type":"text","fontSize":16,"color":"#888","baseline":"alphabetic","dy":5},
  "encoding":{"x":{"field":"g","type":"nominal","scale":{"type":"band","domain":["HTM","LTMa","LTMb","UN"]},"axis":{"title":null,"orient":"bottom","offset":19,"ticks":false,"domainColor":"#8a8a8a","domainWidth":1.5,"labelPadding":3,"labelExpr":"datum.value=='LTMa'?'':datum.value=='LTMb'?'ᶜᵁᵀLTMᴹˢ':datum.value","labelOffset":{"condition":{"test":"datum.value=='LTMb'","value":-25},"value":0}}},"y":{"datum":5,"type":"quantitative","axis":{"title":"APdB (ms)","values":[0,1,2,3,4,5]}},"text":{"field":"s"}}}
],"resolve":{"scale":{"x":"independent"},"axis":{"x":"independent"}}},

{"width":189,"height":129,"layer":[
 {"data":{"name":"pts"},"transform":[{"filter":"datum.p=='C2'"},{"window":[{"op":"cume_dist","as":"j"}],"groupby":["k"]}],"mark":{"type":"point","size":20,"strokeWidth":1,"opacity":1},
  "encoding":{"x":{"field":"k","type":"nominal","scale":{"type":"band","domain":["HC","HN","LC","LN","UC","UN"]},"axis":{"title":null,"orient":"bottom","labelExpr":"datum.value[1]=='C'?'Control':'NeP'"}},
   "xOffset":{"field":"j","type":"quantitative","scale":{"domain":[0,1],"range":[4,25]}},
   "y":{"field":"v","type":"quantitative","scale":{"domain":[0,4]},"axis":{"title":"APRT (ms)","values":[0,0.5,1,1.5,2,2.5,3,3.5,4],"format":".1f"}},
   "shape":{"condition":[{"test":"datum.k[0]=='L'","value":"triangle-up"},{"test":"datum.k[0]=='M'","value":"triangle-down"},{"test":"datum.k[0]=='U'","value":"square"}],"value":"circle"},
   "fill":{"condition":{"test":"datum.k[1]=='C'","value":"#1a1a1a"},"value":"#ffffff"},
   "stroke":{"condition":{"test":"datum.k[1]=='C'","value":"#1a1a1a"},"value":"#707070"}}},
 {"data":{"name":"means"},"transform":[{"filter":"datum.p=='C2'"}],"mark":{"type":"tick","size":20,"opacity":1},
  "encoding":{"x":{"field":"k","type":"nominal","scale":{"type":"band","domain":["HC","HN","LC","LN","UC","UN"]},"axis":null},"y":{"field":"m","type":"quantitative","axis":{"title":"APRT (ms)","values":[0,0.5,1,1.5,2,2.5,3,3.5,4],"format":".1f"}}}},
 {"data":{"name":"pairs"},"transform":[{"filter":"datum.p=='C2'"}],"mark":{"type":"text","fontSize":16,"color":"#888","baseline":"alphabetic","dy":5},
  "encoding":{"x":{"field":"g","type":"nominal","scale":{"type":"band","domain":["HTM","LTM","UN"]},"axis":{"title":null,"orient":"bottom","offset":19,"ticks":false,"domainColor":"#8a8a8a","domainWidth":1.5,"labelPadding":3}},"y":{"datum":4,"type":"quantitative","axis":{"title":"APRT (ms)","values":[0,0.5,1,1.5,2,2.5,3,3.5,4],"format":".1f"}},"text":{"field":"s"}}}
],"resolve":{"scale":{"x":"independent"},"axis":{"x":"independent"}}},
{"width":202,"height":129,"layer":[
 {"data":{"name":"pts"},"transform":[{"filter":"datum.p=='D2'"},{"window":[{"op":"cume_dist","as":"j"}],"groupby":["k"]}],"mark":{"type":"point","size":20,"strokeWidth":1,"opacity":1},
  "encoding":{"x":{"field":"k","type":"nominal","scale":{"type":"band","paddingOuter":0.2,"domain":["HC","HN","LC","LN","UC","UN"]},"axis":{"title":null,"orient":"bottom","labelExpr":"datum.value[1]=='C'?'Control':'NeP'"}},
   "xOffset":{"field":"j","type":"quantitative","scale":{"domain":[0,1],"range":[4,26]}},
   "y":{"field":"v","type":"quantitative","scale":{"domain":[0,2]},"axis":{"title":"APRT (ms)","values":[0,0.5,1,1.5,2],"format":".1f"}},
   "shape":{"condition":[{"test":"datum.k[0]=='L'","value":"triangle-up"},{"test":"datum.k[0]=='M'","value":"triangle-down"},{"test":"datum.k[0]=='U'","value":"square"}],"value":"circle"},
   "fill":{"condition":{"test":"datum.k[1]=='C'","value":"#1a1a1a"},"value":"#ffffff"},
   "stroke":{"condition":{"test":"datum.k[1]=='C'","value":"#1a1a1a"},"value":"#707070"}}},
 {"data":{"name":"means"},"transform":[{"filter":"datum.p=='D2'"}],"mark":{"type":"tick","size":20,"opacity":1},
  "encoding":{"x":{"field":"k","type":"nominal","scale":{"type":"band","paddingOuter":0.2,"domain":["HC","HN","LC","LN","UC","UN"]},"axis":null},"y":{"field":"m","type":"quantitative","axis":{"title":"APRT (ms)","values":[0,0.5,1,1.5,2],"format":".1f"}}}},
 {"data":{"name":"pairs"},"transform":[{"filter":"datum.p=='D2'"}],"mark":{"type":"text","fontSize":16,"color":"#888","baseline":"alphabetic","dy":5},
  "encoding":{"x":{"field":"g","type":"nominal","scale":{"type":"band","paddingOuter":0.1,"domain":["HTM","LTM","UN"]},"axis":{"title":null,"orient":"bottom","offset":19,"ticks":false,"domainColor":"#8a8a8a","domainWidth":1.5,"labelPadding":3}},"y":{"datum":2,"type":"quantitative","axis":{"title":"APRT (ms)","values":[0,0.5,1,1.5,2],"format":".1f"}},"text":{"field":"s"}}}
],"resolve":{"scale":{"x":"independent"},"axis":{"x":"independent"}}},
{"width":200,"height":129,"layer":[
 {"data":{"name":"pts"},"transform":[{"filter":"datum.p=='B2'"},{"window":[{"op":"cume_dist","as":"j"}],"groupby":["k"]}],"mark":{"type":"point","size":16,"strokeWidth":1,"opacity":1},
  "encoding":{"x":{"field":"k","type":"nominal","scale":{"type":"band","domain":["HC","HN","LC","LN","MC","MN","UC","UN"]},"axis":{"title":null,"orient":"bottom","labelFontSize":9.5,"labelExpr":"datum.value[1]=='C'?'Control':'NeP'"}},
   "xOffset":{"field":"j","type":"quantitative","scale":{"domain":[0,1],"range":[1,22]}},
   "y":{"field":"v","type":"quantitative","scale":{"domain":[0,2]},"axis":{"title":"APRT (ms)","values":[0,0.5,1,1.5,2],"format":".1f"}},
   "shape":{"condition":[{"test":"datum.k[0]=='L'","value":"triangle-up"},{"test":"datum.k[0]=='M'","value":"triangle-down"},{"test":"datum.k[0]=='U'","value":"square"}],"value":"circle"},
   "fill":{"condition":{"test":"datum.k[1]=='C'","value":"#1a1a1a"},"value":"#ffffff"},
   "stroke":{"condition":{"test":"datum.k[1]=='C'","value":"#1a1a1a"},"value":"#707070"}}},
 {"data":{"name":"means"},"transform":[{"filter":"datum.p=='B2'"}],"mark":{"type":"tick","size":17,"opacity":1},
  "encoding":{"x":{"field":"k","type":"nominal","scale":{"type":"band","domain":["HC","HN","LC","LN","MC","MN","UC","UN"]},"axis":null},"y":{"field":"m","type":"quantitative","axis":{"title":"APRT (ms)","values":[0,0.5,1,1.5,2],"format":".1f"}}}},
 {"data":{"name":"pairs"},"transform":[{"filter":"datum.p=='B2'"}],"mark":{"type":"text","fontSize":16,"color":"#888","baseline":"alphabetic","dy":5},
  "encoding":{"x":{"field":"g","type":"nominal","scale":{"type":"band","domain":["HTM","LTMa","LTMb","UN"]},"axis":{"title":null,"orient":"bottom","offset":19,"ticks":false,"domainColor":"#8a8a8a","domainWidth":1.5,"labelPadding":3,"labelExpr":"datum.value=='LTMa'?'':datum.value=='LTMb'?'ᶜᵁᵀLTMᴹˢ':datum.value","labelOffset":{"condition":{"test":"datum.value=='LTMb'","value":-25},"value":0}}},"y":{"datum":2,"type":"quantitative","axis":{"title":"APRT (ms)","values":[0,0.5,1,1.5,2],"format":".1f"}},"text":{"field":"s"}}}
],"resolve":{"scale":{"x":"independent"},"axis":{"x":"independent"}}},

{"width":189,"height":129,"layer":[
 {"data":{"name":"pts"},"transform":[{"filter":"datum.p=='C3'"},{"window":[{"op":"cume_dist","as":"j"}],"groupby":["k"]}],"mark":{"type":"point","size":20,"strokeWidth":1,"opacity":1},
  "encoding":{"x":{"field":"k","type":"nominal","scale":{"type":"band","domain":["HC","HN","LC","LN","UC","UN"]},"axis":{"title":null,"orient":"bottom","labelExpr":"datum.value[1]=='C'?'Control':'NeP'"}},
   "xOffset":{"field":"j","type":"quantitative","scale":{"domain":[0,1],"range":[4,25]}},
   "y":{"field":"v","type":"quantitative","scale":{"domain":[0,6]},"axis":{"title":"APFT (ms)","values":[0,1,2,3,4,5,6]}},
   "shape":{"condition":[{"test":"datum.k[0]=='L'","value":"triangle-up"},{"test":"datum.k[0]=='M'","value":"triangle-down"},{"test":"datum.k[0]=='U'","value":"square"}],"value":"circle"},
   "fill":{"condition":{"test":"datum.k[1]=='C'","value":"#1a1a1a"},"value":"#ffffff"},
   "stroke":{"condition":{"test":"datum.k[1]=='C'","value":"#1a1a1a"},"value":"#707070"}}},
 {"data":{"name":"means"},"transform":[{"filter":"datum.p=='C3'"}],"mark":{"type":"tick","size":20,"opacity":1},
  "encoding":{"x":{"field":"k","type":"nominal","scale":{"type":"band","domain":["HC","HN","LC","LN","UC","UN"]},"axis":null},"y":{"field":"m","type":"quantitative","axis":{"title":"APFT (ms)","values":[0,1,2,3,4,5,6]}}}},
 {"data":{"name":"pairs"},"transform":[{"filter":"datum.p=='C3'"}],"mark":{"type":"text","fontSize":16,"color":"#888","baseline":"alphabetic","dy":5},
  "encoding":{"x":{"field":"g","type":"nominal","scale":{"type":"band","domain":["HTM","LTM","UN"]},"axis":{"title":null,"orient":"bottom","offset":19,"ticks":false,"domainColor":"#8a8a8a","domainWidth":1.5,"labelPadding":3}},"y":{"datum":6,"type":"quantitative","axis":{"title":"APFT (ms)","values":[0,1,2,3,4,5,6]}},"text":{"field":"s"}}}
],"resolve":{"scale":{"x":"independent"},"axis":{"x":"independent"}}},
{"width":202,"height":129,"layer":[
 {"data":{"name":"pts"},"transform":[{"filter":"datum.p=='D3'"},{"window":[{"op":"cume_dist","as":"j"}],"groupby":["k"]}],"mark":{"type":"point","size":20,"strokeWidth":1,"opacity":1},
  "encoding":{"x":{"field":"k","type":"nominal","scale":{"type":"band","paddingOuter":0.2,"domain":["HC","HN","LC","LN","UC","UN"]},"axis":{"title":null,"orient":"bottom","labelExpr":"datum.value[1]=='C'?'Control':'NeP'"}},
   "xOffset":{"field":"j","type":"quantitative","scale":{"domain":[0,1],"range":[4,26]}},
   "y":{"field":"v","type":"quantitative","scale":{"domain":[0,6]},"axis":{"title":"APFT (ms)","values":[0,1,2,3,4,5,6]}},
   "shape":{"condition":[{"test":"datum.k[0]=='L'","value":"triangle-up"},{"test":"datum.k[0]=='M'","value":"triangle-down"},{"test":"datum.k[0]=='U'","value":"square"}],"value":"circle"},
   "fill":{"condition":{"test":"datum.k[1]=='C'","value":"#1a1a1a"},"value":"#ffffff"},
   "stroke":{"condition":{"test":"datum.k[1]=='C'","value":"#1a1a1a"},"value":"#707070"}}},
 {"data":{"name":"means"},"transform":[{"filter":"datum.p=='D3'"}],"mark":{"type":"tick","size":20,"opacity":1},
  "encoding":{"x":{"field":"k","type":"nominal","scale":{"type":"band","paddingOuter":0.2,"domain":["HC","HN","LC","LN","UC","UN"]},"axis":null},"y":{"field":"m","type":"quantitative","axis":{"title":"APFT (ms)","values":[0,1,2,3,4,5,6]}}}},
 {"data":{"name":"pairs"},"transform":[{"filter":"datum.p=='D3'"}],"mark":{"type":"text","fontSize":16,"color":"#888","baseline":"alphabetic","dy":5},
  "encoding":{"x":{"field":"g","type":"nominal","scale":{"type":"band","paddingOuter":0.1,"domain":["HTM","LTM","UN"]},"axis":{"title":null,"orient":"bottom","offset":19,"ticks":false,"domainColor":"#8a8a8a","domainWidth":1.5,"labelPadding":3}},"y":{"datum":6,"type":"quantitative","axis":{"title":"APFT (ms)","values":[0,1,2,3,4,5,6]}},"text":{"field":"s"}}}
],"resolve":{"scale":{"x":"independent"},"axis":{"x":"independent"}}},
{"width":200,"height":129,"layer":[
 {"data":{"name":"pts"},"transform":[{"filter":"datum.p=='B3'"},{"window":[{"op":"cume_dist","as":"j"}],"groupby":["k"]}],"mark":{"type":"point","size":16,"strokeWidth":1,"opacity":1},
  "encoding":{"x":{"field":"k","type":"nominal","scale":{"type":"band","domain":["HC","HN","LC","LN","MC","MN","UC","UN"]},"axis":{"title":null,"orient":"bottom","labelFontSize":9.5,"labelExpr":"datum.value[1]=='C'?'Control':'NeP'"}},
   "xOffset":{"field":"j","type":"quantitative","scale":{"domain":[0,1],"range":[1,22]}},
   "y":{"field":"v","type":"quantitative","scale":{"domain":[0,4]},"axis":{"title":"APFT (ms)","values":[0,1,2,3,4]}},
   "shape":{"condition":[{"test":"datum.k[0]=='L'","value":"triangle-up"},{"test":"datum.k[0]=='M'","value":"triangle-down"},{"test":"datum.k[0]=='U'","value":"square"}],"value":"circle"},
   "fill":{"condition":{"test":"datum.k[1]=='C'","value":"#1a1a1a"},"value":"#ffffff"},
   "stroke":{"condition":{"test":"datum.k[1]=='C'","value":"#1a1a1a"},"value":"#707070"}}},
 {"data":{"name":"means"},"transform":[{"filter":"datum.p=='B3'"}],"mark":{"type":"tick","size":17,"opacity":1},
  "encoding":{"x":{"field":"k","type":"nominal","scale":{"type":"band","domain":["HC","HN","LC","LN","MC","MN","UC","UN"]},"axis":null},"y":{"field":"m","type":"quantitative","axis":{"title":"APFT (ms)","values":[0,1,2,3,4]}}}},
 {"data":{"name":"pairs"},"transform":[{"filter":"datum.p=='B3'"}],"mark":{"type":"text","fontSize":16,"color":"#888","baseline":"alphabetic","dy":5},
  "encoding":{"x":{"field":"g","type":"nominal","scale":{"type":"band","domain":["HTM","LTMa","LTMb","UN"]},"axis":{"title":null,"orient":"bottom","offset":19,"ticks":false,"domainColor":"#8a8a8a","domainWidth":1.5,"labelPadding":3,"labelExpr":"datum.value=='LTMa'?'':datum.value=='LTMb'?'ˢᴷᴵᴺLTMᴹˢ':datum.value","labelOffset":{"condition":{"test":"datum.value=='LTMb'","value":-25},"value":0}}},"y":{"datum":4,"type":"quantitative","axis":{"title":"APFT (ms)","values":[0,1,2,3,4]}},"text":{"field":"s"}}}
],"resolve":{"scale":{"x":"independent"},"axis":{"x":"independent"}}},

{"width":189,"height":129,"layer":[
 {"data":{"name":"pts"},"transform":[{"filter":"datum.p=='C4'"},{"window":[{"op":"cume_dist","as":"j"}],"groupby":["k"]}],"mark":{"type":"point","size":20,"strokeWidth":1,"opacity":1},
  "encoding":{"x":{"field":"k","type":"nominal","scale":{"type":"band","domain":["HC","HN","LC","LN","UC","UN"]},"axis":{"title":null,"orient":"bottom","labelExpr":"datum.value[1]=='C'?'Control':'NeP'"}},
   "xOffset":{"field":"j","type":"quantitative","scale":{"domain":[0,1],"range":[4,25]}},
   "y":{"field":"v","type":"quantitative","scale":{"domain":[0,350]},"axis":{"title":"MRR (mV/ms)","values":[0,50,100,150,200,250,300,350]}},
   "shape":{"condition":[{"test":"datum.k[0]=='L'","value":"triangle-up"},{"test":"datum.k[0]=='M'","value":"triangle-down"},{"test":"datum.k[0]=='U'","value":"square"}],"value":"circle"},
   "fill":{"condition":{"test":"datum.k[1]=='C'","value":"#1a1a1a"},"value":"#ffffff"},
   "stroke":{"condition":{"test":"datum.k[1]=='C'","value":"#1a1a1a"},"value":"#707070"}}},
 {"data":{"name":"means"},"transform":[{"filter":"datum.p=='C4'"}],"mark":{"type":"tick","size":20,"opacity":1},
  "encoding":{"x":{"field":"k","type":"nominal","scale":{"type":"band","domain":["HC","HN","LC","LN","UC","UN"]},"axis":null},"y":{"field":"m","type":"quantitative","axis":{"title":"MRR (mV/ms)","values":[0,50,100,150,200,250,300,350]}}}},
 {"data":{"name":"pairs"},"transform":[{"filter":"datum.p=='C4'"}],"mark":{"type":"text","fontSize":16,"color":"#888","baseline":"alphabetic","dy":5},
  "encoding":{"x":{"field":"g","type":"nominal","scale":{"type":"band","domain":["HTM","LTM","UN"]},"axis":{"title":null,"orient":"bottom","offset":19,"ticks":false,"domainColor":"#8a8a8a","domainWidth":1.5,"labelPadding":3}},"y":{"datum":350,"type":"quantitative","axis":{"title":"MRR (mV/ms)","values":[0,50,100,150,200,250,300,350]}},"text":{"field":"s"}}}
],"resolve":{"scale":{"x":"independent"},"axis":{"x":"independent"}}},
{"width":202,"height":129,"layer":[
 {"data":{"name":"pts"},"transform":[{"filter":"datum.p=='D4'"},{"window":[{"op":"cume_dist","as":"j"}],"groupby":["k"]}],"mark":{"type":"point","size":20,"strokeWidth":1,"opacity":1},
  "encoding":{"x":{"field":"k","type":"nominal","scale":{"type":"band","paddingOuter":0.2,"domain":["HC","HN","LC","LN","UC","UN"]},"axis":{"title":null,"orient":"bottom","labelExpr":"datum.value[1]=='C'?'Control':'NeP'"}},
   "xOffset":{"field":"j","type":"quantitative","scale":{"domain":[0,1],"range":[4,26]}},
   "y":{"field":"v","type":"quantitative","scale":{"domain":[0,350]},"axis":{"title":"MRR (mV/ms)","values":[0,50,100,150,200,250,300,350]}},
   "shape":{"condition":[{"test":"datum.k[0]=='L'","value":"triangle-up"},{"test":"datum.k[0]=='M'","value":"triangle-down"},{"test":"datum.k[0]=='U'","value":"square"}],"value":"circle"},
   "fill":{"condition":{"test":"datum.k[1]=='C'","value":"#1a1a1a"},"value":"#ffffff"},
   "stroke":{"condition":{"test":"datum.k[1]=='C'","value":"#1a1a1a"},"value":"#707070"}}},
 {"data":{"name":"means"},"transform":[{"filter":"datum.p=='D4'"}],"mark":{"type":"tick","size":20,"opacity":1},
  "encoding":{"x":{"field":"k","type":"nominal","scale":{"type":"band","paddingOuter":0.2,"domain":["HC","HN","LC","LN","UC","UN"]},"axis":null},"y":{"field":"m","type":"quantitative","axis":{"title":"MRR (mV/ms)","values":[0,50,100,150,200,250,300,350]}}}},
 {"data":{"name":"pairs"},"transform":[{"filter":"datum.p=='D4'"}],"mark":{"type":"text","fontSize":16,"color":"#888","baseline":"alphabetic","dy":5},
  "encoding":{"x":{"field":"g","type":"nominal","scale":{"type":"band","paddingOuter":0.1,"domain":["HTM","LTM","UN"]},"axis":{"title":null,"orient":"bottom","offset":19,"ticks":false,"domainColor":"#8a8a8a","domainWidth":1.5,"labelPadding":3}},"y":{"datum":350,"type":"quantitative","axis":{"title":"MRR (mV/ms)","values":[0,50,100,150,200,250,300,350]}},"text":{"field":"s"}}}
],"resolve":{"scale":{"x":"independent"},"axis":{"x":"independent"}}},
{"width":200,"height":129,"layer":[
 {"data":{"name":"pts"},"transform":[{"filter":"datum.p=='B4'"},{"window":[{"op":"cume_dist","as":"j"}],"groupby":["k"]}],"mark":{"type":"point","size":16,"strokeWidth":1,"opacity":1},
  "encoding":{"x":{"field":"k","type":"nominal","scale":{"type":"band","domain":["HC","HN","LC","LN","MC","MN","UC","UN"]},"axis":{"title":null,"orient":"bottom","labelFontSize":9.5,"labelExpr":"datum.value[1]=='C'?'Control':'NeP'"}},
   "xOffset":{"field":"j","type":"quantitative","scale":{"domain":[0,1],"range":[1,22]}},
   "y":{"field":"v","type":"quantitative","scale":{"domain":[0,450]},"axis":{"title":"MRR (mV/ms)","values":[0,50,100,150,200,250,300,350,400,450]}},
   "shape":{"condition":[{"test":"datum.k[0]=='L'","value":"triangle-up"},{"test":"datum.k[0]=='M'","value":"triangle-down"},{"test":"datum.k[0]=='U'","value":"square"}],"value":"circle"},
   "fill":{"condition":{"test":"datum.k[1]=='C'","value":"#1a1a1a"},"value":"#ffffff"},
   "stroke":{"condition":{"test":"datum.k[1]=='C'","value":"#1a1a1a"},"value":"#707070"}}},
 {"data":{"name":"means"},"transform":[{"filter":"datum.p=='B4'"}],"mark":{"type":"tick","size":17,"opacity":1},
  "encoding":{"x":{"field":"k","type":"nominal","scale":{"type":"band","domain":["HC","HN","LC","LN","MC","MN","UC","UN"]},"axis":null},"y":{"field":"m","type":"quantitative","axis":{"title":"MRR (mV/ms)","values":[0,50,100,150,200,250,300,350,400,450]}}}},
 {"data":{"name":"pairs"},"transform":[{"filter":"datum.p=='B4'"}],"mark":{"type":"text","fontSize":16,"color":"#888","baseline":"alphabetic","dy":5},
  "encoding":{"x":{"field":"g","type":"nominal","scale":{"type":"band","domain":["HTM","LTMa","LTMb","UN"]},"axis":{"title":null,"orient":"bottom","offset":19,"ticks":false,"domainColor":"#8a8a8a","domainWidth":1.5,"labelPadding":3,"labelExpr":"datum.value=='LTMa'?'':datum.value=='LTMb'?'ˢᴷᴵᴺLTMᴹˢ':datum.value","labelOffset":{"condition":{"test":"datum.value=='LTMb'","value":-25},"value":0}}},"y":{"datum":450,"type":"quantitative","axis":{"title":"MRR (mV/ms)","values":[0,50,100,150,200,250,300,350,400,450]}},"text":{"field":"s"}}}
],"resolve":{"scale":{"x":"independent"},"axis":{"x":"independent"}}},

{"width":189,"height":129,"layer":[
 {"data":{"name":"pts"},"transform":[{"filter":"datum.p=='C5'"},{"window":[{"op":"cume_dist","as":"j"}],"groupby":["k"]}],"mark":{"type":"point","size":20,"strokeWidth":1,"opacity":1},
  "encoding":{"x":{"field":"k","type":"nominal","scale":{"type":"band","domain":["HC","HN","LC","LN","UC","UN"]},"axis":{"title":null,"orient":"bottom","labelExpr":"datum.value[1]=='C'?'Control':'NeP'"}},
   "xOffset":{"field":"j","type":"quantitative","scale":{"domain":[0,1],"range":[4,25]}},
   "y":{"field":"v","type":"quantitative","scale":{"domain":[20,100]},"axis":{"title":"MFR (mV/ms)","values":[20,30,40,50,60,70,80,90,100]}},
   "shape":{"condition":[{"test":"datum.k[0]=='L'","value":"triangle-up"},{"test":"datum.k[0]=='M'","value":"triangle-down"},{"test":"datum.k[0]=='U'","value":"square"}],"value":"circle"},
   "fill":{"condition":{"test":"datum.k[1]=='C'","value":"#1a1a1a"},"value":"#ffffff"},
   "stroke":{"condition":{"test":"datum.k[1]=='C'","value":"#1a1a1a"},"value":"#707070"}}},
 {"data":{"name":"means"},"transform":[{"filter":"datum.p=='C5'"}],"mark":{"type":"tick","size":20,"opacity":1},
  "encoding":{"x":{"field":"k","type":"nominal","scale":{"type":"band","domain":["HC","HN","LC","LN","UC","UN"]},"axis":null},"y":{"field":"m","type":"quantitative","axis":{"title":"MFR (mV/ms)","values":[20,30,40,50,60,70,80,90,100]}}}},
 {"data":{"name":"pairs"},"transform":[{"filter":"datum.p=='C5'"}],"mark":{"type":"text","fontSize":16,"color":"#888","baseline":"alphabetic","dy":5},
  "encoding":{"x":{"field":"g","type":"nominal","scale":{"type":"band","domain":["HTM","LTM","UN"]},"axis":{"title":null,"orient":"bottom","offset":19,"ticks":false,"domainColor":"#8a8a8a","domainWidth":1.5,"labelPadding":3}},"y":{"datum":100,"type":"quantitative","axis":{"title":"MFR (mV/ms)","values":[20,30,40,50,60,70,80,90,100]}},"text":{"field":"s"}}}
],"resolve":{"scale":{"x":"independent"},"axis":{"x":"independent"}}},
{"width":202,"height":129,"layer":[
 {"data":{"name":"pts"},"transform":[{"filter":"datum.p=='D5'"},{"window":[{"op":"cume_dist","as":"j"}],"groupby":["k"]}],"mark":{"type":"point","size":20,"strokeWidth":1,"opacity":1},
  "encoding":{"x":{"field":"k","type":"nominal","scale":{"type":"band","paddingOuter":0.2,"domain":["HC","HN","LC","LN","UC","UN"]},"axis":{"title":null,"orient":"bottom","labelExpr":"datum.value[1]=='C'?'Control':'NeP'"}},
   "xOffset":{"field":"j","type":"quantitative","scale":{"domain":[0,1],"range":[4,26]}},
   "y":{"field":"v","type":"quantitative","scale":{"domain":[0,180]},"axis":{"title":"MFR (mV/ms)","values":[0,20,40,60,80,100,120,140,160,180]}},
   "shape":{"condition":[{"test":"datum.k[0]=='L'","value":"triangle-up"},{"test":"datum.k[0]=='M'","value":"triangle-down"},{"test":"datum.k[0]=='U'","value":"square"}],"value":"circle"},
   "fill":{"condition":{"test":"datum.k[1]=='C'","value":"#1a1a1a"},"value":"#ffffff"},
   "stroke":{"condition":{"test":"datum.k[1]=='C'","value":"#1a1a1a"},"value":"#707070"}}},
 {"data":{"name":"means"},"transform":[{"filter":"datum.p=='D5'"}],"mark":{"type":"tick","size":20,"opacity":1},
  "encoding":{"x":{"field":"k","type":"nominal","scale":{"type":"band","paddingOuter":0.2,"domain":["HC","HN","LC","LN","UC","UN"]},"axis":null},"y":{"field":"m","type":"quantitative","axis":{"title":"MFR (mV/ms)","values":[0,20,40,60,80,100,120,140,160,180]}}}},
 {"data":{"name":"pairs"},"transform":[{"filter":"datum.p=='D5'"}],"mark":{"type":"text","fontSize":16,"color":"#888","baseline":"alphabetic","dy":5},
  "encoding":{"x":{"field":"g","type":"nominal","scale":{"type":"band","paddingOuter":0.1,"domain":["HTM","LTM","UN"]},"axis":{"title":null,"orient":"bottom","offset":19,"ticks":false,"domainColor":"#8a8a8a","domainWidth":1.5,"labelPadding":3}},"y":{"datum":180,"type":"quantitative","axis":{"title":"MFR (mV/ms)","values":[0,20,40,60,80,100,120,140,160,180]}},"text":{"field":"s"}}}
],"resolve":{"scale":{"x":"independent"},"axis":{"x":"independent"}}},
{"width":200,"height":129,"layer":[
 {"data":{"name":"pts"},"transform":[{"filter":"datum.p=='B5'"},{"window":[{"op":"cume_dist","as":"j"}],"groupby":["k"]}],"mark":{"type":"point","size":16,"strokeWidth":1,"opacity":1},
  "encoding":{"x":{"field":"k","type":"nominal","scale":{"type":"band","domain":["HC","HN","LC","LN","MC","MN","UC","UN"]},"axis":{"title":null,"orient":"bottom","labelFontSize":9.5,"labelExpr":"datum.value[1]=='C'?'Control':'NeP'"}},
   "xOffset":{"field":"j","type":"quantitative","scale":{"domain":[0,1],"range":[1,22]}},
   "y":{"field":"v","type":"quantitative","scale":{"domain":[0,350]},"axis":{"title":"MFR (mV/ms)","values":[0,50,100,150,200,250,300,350]}},
   "shape":{"condition":[{"test":"datum.k[0]=='L'","value":"triangle-up"},{"test":"datum.k[0]=='M'","value":"triangle-down"},{"test":"datum.k[0]=='U'","value":"square"}],"value":"circle"},
   "fill":{"condition":{"test":"datum.k[1]=='C'","value":"#1a1a1a"},"value":"#ffffff"},
   "stroke":{"condition":{"test":"datum.k[1]=='C'","value":"#1a1a1a"},"value":"#707070"}}},
 {"data":{"name":"means"},"transform":[{"filter":"datum.p=='B5'"}],"mark":{"type":"tick","size":17,"opacity":1},
  "encoding":{"x":{"field":"k","type":"nominal","scale":{"type":"band","domain":["HC","HN","LC","LN","MC","MN","UC","UN"]},"axis":null},"y":{"field":"m","type":"quantitative","axis":{"title":"MFR (mV/ms)","values":[0,50,100,150,200,250,300,350]}}}},
 {"data":{"name":"pairs"},"transform":[{"filter":"datum.p=='B5'"}],"mark":{"type":"text","fontSize":16,"color":"#888","baseline":"alphabetic","dy":5},
  "encoding":{"x":{"field":"g","type":"nominal","scale":{"type":"band","domain":["HTM","LTMa","LTMb","UN"]},"axis":{"title":null,"orient":"bottom","offset":19,"ticks":false,"domainColor":"#8a8a8a","domainWidth":1.5,"labelPadding":3,"labelExpr":"datum.value=='LTMa'?'':datum.value=='LTMb'?'ᶜᵁᵀLTMᴹˢ':datum.value","labelOffset":{"condition":{"test":"datum.value=='LTMb'","value":-25},"value":0}}},"y":{"datum":350,"type":"quantitative","axis":{"title":"MFR (mV/ms)","values":[0,50,100,150,200,250,300,350]}},"text":{"field":"s"}}}
],"resolve":{"scale":{"x":"independent"},"axis":{"x":"independent"}}}
]
}
